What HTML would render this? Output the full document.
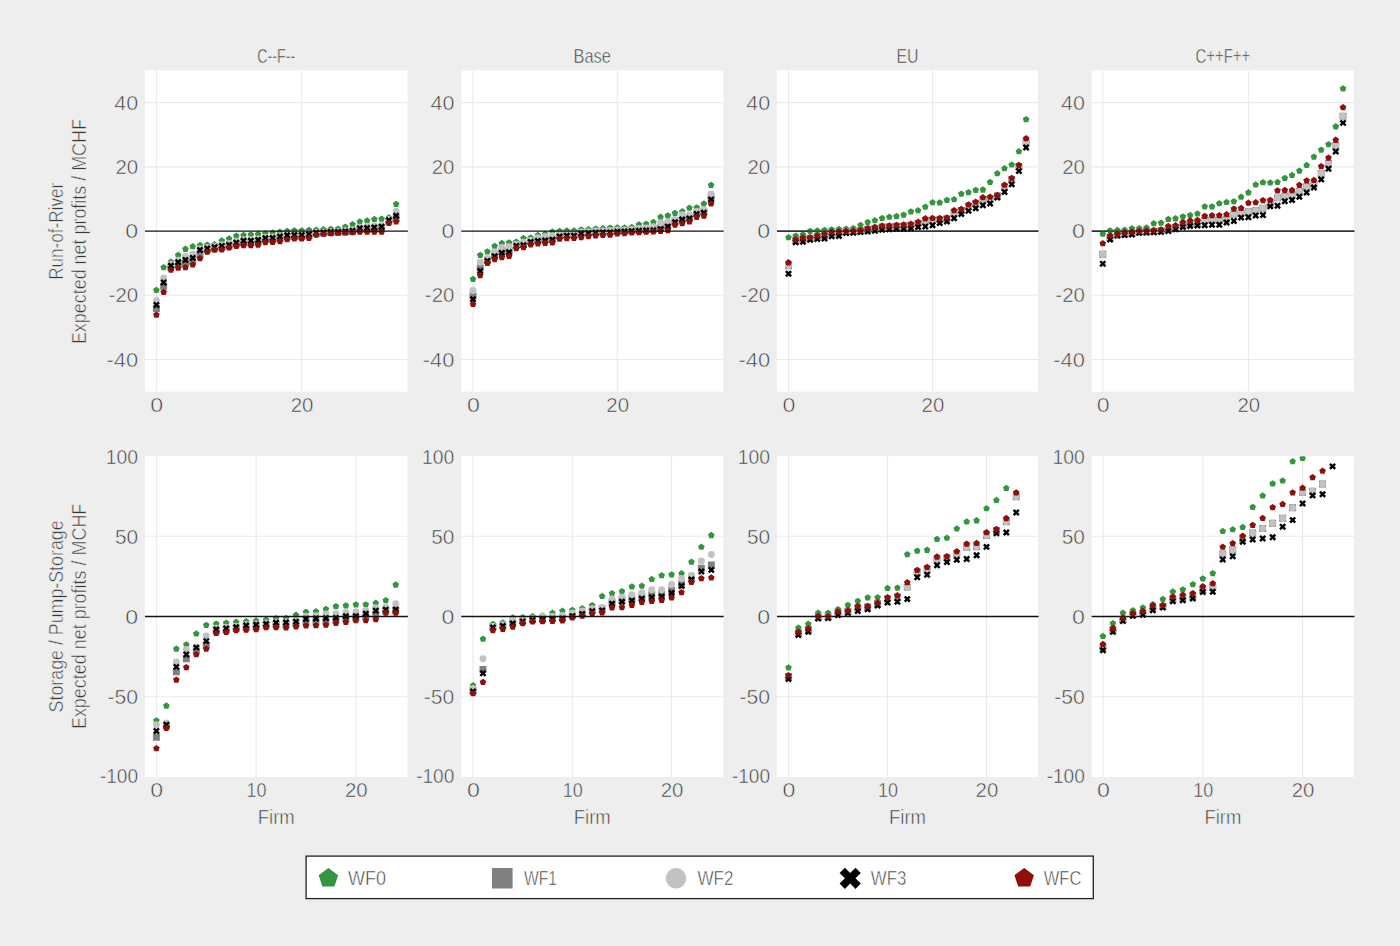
<!DOCTYPE html>
<html lang="en"><head><meta charset="utf-8"><title>Expected net profits by firm</title>
<style>html,body{margin:0;padding:0;background:#eeeeee}svg{display:block}</style></head>
<body>
<svg width="1400" height="946" viewBox="0 0 1400 946" font-family='"Liberation Sans", sans-serif' font-size="20" fill="#383838" stroke="#eeeeee" stroke-width="0.55">
<rect width="1400" height="946" fill="#eeeeee" stroke="none"/>
<rect x="145.00" y="70.55" width="262.50" height="321.15" fill="#ffffff" stroke="none"/>
<path d="M156.40,70.55V391.70M301.70,70.55V391.70M145.00,359.54H407.50M145.00,295.32H407.50M145.00,166.88H407.50M145.00,102.66H407.50" stroke="#eaeaea" stroke-width="1.1" fill="none"/>
<clipPath id="c1"><rect x="145.00" y="70.55" width="262.50" height="321.15"/></clipPath>
<g clip-path="url(#c1)">
<path d="M156.40,286.71L153.10,289.11L154.36,292.99L158.44,292.99L159.70,289.11ZM163.66,263.91L160.36,266.31L161.63,270.19L165.70,270.19L166.97,266.31ZM170.93,258.46L167.63,260.85L168.89,264.73L172.97,264.73L174.23,260.85ZM178.19,251.71L174.89,254.11L176.16,257.99L180.23,257.99L181.50,254.11ZM185.46,245.61L182.16,248.01L183.42,251.89L187.50,251.89L188.76,248.01ZM192.72,243.04L189.42,245.44L190.69,249.32L194.76,249.32L196.03,245.44ZM199.99,241.76L196.69,244.16L197.95,248.04L202.03,248.04L203.29,244.16ZM207.25,241.44L203.95,243.84L205.22,247.71L209.29,247.71L210.56,243.84ZM214.52,241.12L211.22,243.51L212.48,247.39L216.56,247.39L217.82,243.51ZM221.78,237.26L218.48,239.66L219.75,243.54L223.82,243.54L225.09,239.66ZM229.05,235.34L225.75,237.73L227.01,241.61L231.09,241.61L232.35,237.73ZM236.31,232.45L233.01,234.84L234.28,238.72L238.35,238.72L239.62,234.84ZM243.58,231.80L240.28,234.20L241.54,238.08L245.62,238.08L246.88,234.20ZM250.84,231.16L247.54,233.56L248.81,237.44L252.88,237.44L254.15,233.56ZM258.11,230.84L254.81,233.24L256.07,237.12L260.15,237.12L261.41,233.24ZM265.38,230.04L262.07,232.44L263.34,236.32L267.41,236.32L268.68,232.44ZM272.64,229.24L269.34,231.63L270.60,235.51L274.68,235.51L275.94,231.63ZM279.90,228.59L276.60,230.99L277.87,234.87L281.94,234.87L283.21,230.99ZM287.17,227.63L283.87,230.03L285.13,233.91L289.21,233.91L290.47,230.03ZM294.43,227.15L291.13,229.55L292.40,233.43L296.47,233.43L297.74,229.55ZM301.70,227.15L298.40,229.55L299.66,233.43L303.74,233.43L305.00,229.55ZM308.96,226.67L305.66,229.06L306.93,232.94L311.00,232.94L312.27,229.06ZM316.23,226.51L312.93,228.90L314.19,232.78L318.27,232.78L319.53,228.90ZM323.50,226.02L320.19,228.42L321.46,232.30L325.53,232.30L326.80,228.42ZM330.76,225.70L327.46,228.10L328.72,231.98L332.80,231.98L334.06,228.10ZM338.02,225.38L334.72,227.78L335.99,231.66L340.06,231.66L341.33,227.78ZM345.29,223.46L341.99,225.85L343.25,229.73L347.33,229.73L348.59,225.85ZM352.55,220.89L349.25,223.28L350.52,227.16L354.59,227.16L355.86,223.28ZM359.82,218.32L356.52,220.72L357.78,224.60L361.86,224.60L363.12,220.72ZM367.08,217.35L363.78,219.75L365.05,223.63L369.12,223.63L370.39,219.75ZM374.35,215.75L371.05,218.15L372.31,222.03L376.39,222.03L377.65,218.15ZM381.62,215.43L378.31,217.83L379.58,221.71L383.65,221.71L384.92,217.83ZM388.88,214.14L385.58,216.54L386.84,220.42L390.92,220.42L392.18,216.54ZM396.14,200.66L392.84,203.06L394.11,206.93L398.18,206.93L399.45,203.06Z" fill="#33963f" stroke="none"/>
<path d="M152.93,305.02 h6.94 v6.94 h-6.94 ZM160.19,282.86 h6.94 v6.94 h-6.94 ZM167.46,263.98 h6.94 v6.94 h-6.94 ZM174.72,261.09 h6.94 v6.94 h-6.94 ZM181.99,259.42 h6.94 v6.94 h-6.94 ZM189.25,257.49 h6.94 v6.94 h-6.94 ZM196.52,250.75 h6.94 v6.94 h-6.94 ZM203.78,246.38 h6.94 v6.94 h-6.94 ZM211.05,244.84 h6.94 v6.94 h-6.94 ZM218.31,243.94 h6.94 v6.94 h-6.94 ZM225.58,242.59 h6.94 v6.94 h-6.94 ZM232.84,240.60 h6.94 v6.94 h-6.94 ZM240.11,239.19 h6.94 v6.94 h-6.94 ZM247.37,239.19 h6.94 v6.94 h-6.94 ZM254.64,238.55 h6.94 v6.94 h-6.94 ZM261.90,236.36 h6.94 v6.94 h-6.94 ZM269.17,236.20 h6.94 v6.94 h-6.94 ZM276.43,235.02 h6.94 v6.94 h-6.94 ZM283.70,233.47 h6.94 v6.94 h-6.94 ZM290.96,233.02 h6.94 v6.94 h-6.94 ZM298.23,233.02 h6.94 v6.94 h-6.94 ZM305.49,232.38 h6.94 v6.94 h-6.94 ZM312.76,230.13 h6.94 v6.94 h-6.94 ZM320.02,229.56 h6.94 v6.94 h-6.94 ZM327.29,229.11 h6.94 v6.94 h-6.94 ZM334.55,228.88 h6.94 v6.94 h-6.94 ZM341.82,228.46 h6.94 v6.94 h-6.94 ZM349.08,227.95 h6.94 v6.94 h-6.94 ZM356.35,226.28 h6.94 v6.94 h-6.94 ZM363.61,226.19 h6.94 v6.94 h-6.94 ZM370.88,225.90 h6.94 v6.94 h-6.94 ZM378.14,225.41 h6.94 v6.94 h-6.94 ZM385.41,217.93 h6.94 v6.94 h-6.94 ZM392.67,214.79 h6.94 v6.94 h-6.94 Z" fill="#808080" stroke="none"/>
<path d="M152.93,300.46 a3.47,3.47 0 1,0 6.94,0 a3.47,3.47 0 1,0 -6.94,0ZM160.19,277.98 a3.47,3.47 0 1,0 6.94,0 a3.47,3.47 0 1,0 -6.94,0ZM167.46,264.16 a3.47,3.47 0 1,0 6.94,0 a3.47,3.47 0 1,0 -6.94,0ZM174.72,260.25 a3.47,3.47 0 1,0 6.94,0 a3.47,3.47 0 1,0 -6.94,0ZM181.99,256.15 a3.47,3.47 0 1,0 6.94,0 a3.47,3.47 0 1,0 -6.94,0ZM189.25,254.22 a3.47,3.47 0 1,0 6.94,0 a3.47,3.47 0 1,0 -6.94,0ZM196.52,248.75 a3.47,3.47 0 1,0 6.94,0 a3.47,3.47 0 1,0 -6.94,0ZM203.78,247.39 a3.47,3.47 0 1,0 6.94,0 a3.47,3.47 0 1,0 -6.94,0ZM211.05,246.29 a3.47,3.47 0 1,0 6.94,0 a3.47,3.47 0 1,0 -6.94,0ZM218.31,244.66 a3.47,3.47 0 1,0 6.94,0 a3.47,3.47 0 1,0 -6.94,0ZM225.58,243.58 a3.47,3.47 0 1,0 6.94,0 a3.47,3.47 0 1,0 -6.94,0ZM232.84,241.30 a3.47,3.47 0 1,0 6.94,0 a3.47,3.47 0 1,0 -6.94,0ZM240.11,239.63 a3.47,3.47 0 1,0 6.94,0 a3.47,3.47 0 1,0 -6.94,0ZM247.37,239.53 a3.47,3.47 0 1,0 6.94,0 a3.47,3.47 0 1,0 -6.94,0ZM254.64,238.95 a3.47,3.47 0 1,0 6.94,0 a3.47,3.47 0 1,0 -6.94,0ZM261.90,237.25 a3.47,3.47 0 1,0 6.94,0 a3.47,3.47 0 1,0 -6.94,0ZM269.17,237.00 a3.47,3.47 0 1,0 6.94,0 a3.47,3.47 0 1,0 -6.94,0ZM276.43,235.72 a3.47,3.47 0 1,0 6.94,0 a3.47,3.47 0 1,0 -6.94,0ZM283.70,234.52 a3.47,3.47 0 1,0 6.94,0 a3.47,3.47 0 1,0 -6.94,0ZM290.96,234.19 a3.47,3.47 0 1,0 6.94,0 a3.47,3.47 0 1,0 -6.94,0ZM298.23,234.19 a3.47,3.47 0 1,0 6.94,0 a3.47,3.47 0 1,0 -6.94,0ZM305.49,233.59 a3.47,3.47 0 1,0 6.94,0 a3.47,3.47 0 1,0 -6.94,0ZM312.76,232.25 a3.47,3.47 0 1,0 6.94,0 a3.47,3.47 0 1,0 -6.94,0ZM320.02,231.91 a3.47,3.47 0 1,0 6.94,0 a3.47,3.47 0 1,0 -6.94,0ZM327.29,231.60 a3.47,3.47 0 1,0 6.94,0 a3.47,3.47 0 1,0 -6.94,0ZM334.55,231.42 a3.47,3.47 0 1,0 6.94,0 a3.47,3.47 0 1,0 -6.94,0ZM341.82,230.74 a3.47,3.47 0 1,0 6.94,0 a3.47,3.47 0 1,0 -6.94,0ZM349.08,229.81 a3.47,3.47 0 1,0 6.94,0 a3.47,3.47 0 1,0 -6.94,0ZM356.35,227.16 a3.47,3.47 0 1,0 6.94,0 a3.47,3.47 0 1,0 -6.94,0ZM363.61,226.28 a3.47,3.47 0 1,0 6.94,0 a3.47,3.47 0 1,0 -6.94,0ZM370.88,225.64 a3.47,3.47 0 1,0 6.94,0 a3.47,3.47 0 1,0 -6.94,0ZM378.14,225.46 a3.47,3.47 0 1,0 6.94,0 a3.47,3.47 0 1,0 -6.94,0ZM385.41,219.47 a3.47,3.47 0 1,0 6.94,0 a3.47,3.47 0 1,0 -6.94,0ZM392.67,211.19 a3.47,3.47 0 1,0 6.94,0 a3.47,3.47 0 1,0 -6.94,0Z" fill="#c2c2c2" stroke="none"/>
<path d="M154.66,301.48L156.40,303.22L158.14,301.48L159.87,303.22L158.14,304.95L159.87,306.69L158.14,308.42L156.40,306.69L154.66,308.42L152.93,306.69L154.66,304.95L152.93,303.22ZM161.93,279.01L163.66,280.74L165.40,279.01L167.13,280.74L165.40,282.48L167.13,284.21L165.40,285.95L163.66,284.21L161.93,285.95L160.19,284.21L161.93,282.48L160.19,280.74ZM169.19,262.31L170.93,264.04L172.67,262.31L174.40,264.04L172.67,265.78L174.40,267.51L172.67,269.25L170.93,267.51L169.19,269.25L167.46,267.51L169.19,265.78L167.46,264.04ZM176.46,258.78L178.19,260.51L179.93,258.78L181.66,260.51L179.93,262.25L181.66,263.98L179.93,265.72L178.19,263.98L176.46,265.72L174.72,263.98L176.46,262.25L174.72,260.51ZM183.72,256.53L185.46,258.26L187.20,256.53L188.93,258.26L187.20,260.00L188.93,261.73L187.20,263.47L185.46,261.73L183.72,263.47L181.99,261.73L183.72,260.00L181.99,258.26ZM190.99,254.60L192.72,256.34L194.46,254.60L196.19,256.34L194.46,258.07L196.19,259.81L194.46,261.54L192.72,259.81L190.99,261.54L189.25,259.81L190.99,258.07L189.25,256.34ZM198.25,246.57L199.99,248.31L201.73,246.57L203.46,248.31L201.73,250.04L203.46,251.78L201.73,253.51L199.99,251.78L198.25,253.51L196.52,251.78L198.25,250.04L196.52,248.31ZM205.52,244.97L207.25,246.70L208.99,244.97L210.72,246.70L208.99,248.44L210.72,250.17L208.99,251.91L207.25,250.17L205.52,251.91L203.78,250.17L205.52,248.44L203.78,246.70ZM212.78,243.69L214.52,245.42L216.25,243.69L217.99,245.42L216.25,247.16L217.99,248.89L216.25,250.62L214.52,248.89L212.78,250.62L211.05,248.89L212.78,247.16L211.05,245.42ZM220.05,242.40L221.78,244.14L223.52,242.40L225.25,244.14L223.52,245.87L225.25,247.61L223.52,249.34L221.78,247.61L220.05,249.34L218.31,247.61L220.05,245.87L218.31,244.14ZM227.31,241.44L229.05,243.17L230.79,241.44L232.52,243.17L230.79,244.91L232.52,246.64L230.79,248.38L229.05,246.64L227.31,248.38L225.58,246.64L227.31,244.91L225.58,243.17ZM234.58,239.19L236.31,240.92L238.05,239.19L239.78,240.92L238.05,242.66L239.78,244.39L238.05,246.13L236.31,244.39L234.58,246.13L232.84,244.39L234.58,242.66L232.84,240.92ZM241.84,237.26L243.58,239.00L245.31,237.26L247.05,239.00L245.31,240.73L247.05,242.47L245.31,244.20L243.58,242.47L241.84,244.20L240.11,242.47L241.84,240.73L240.11,239.00ZM249.11,237.26L250.84,239.00L252.58,237.26L254.31,239.00L252.58,240.73L254.31,242.47L252.58,244.20L250.84,242.47L249.11,244.20L247.37,242.47L249.11,240.73L247.37,239.00ZM256.38,236.62L258.11,238.36L259.85,236.62L261.58,238.36L259.85,240.09L261.58,241.83L259.85,243.56L258.11,241.83L256.38,243.56L254.64,241.83L256.38,240.09L254.64,238.36ZM263.64,234.69L265.38,236.43L267.11,234.69L268.85,236.43L267.11,238.16L268.85,239.90L267.11,241.63L265.38,239.90L263.64,241.63L261.90,239.90L263.64,238.16L261.90,236.43ZM270.90,234.53L272.64,236.27L274.38,234.53L276.11,236.27L274.38,238.00L276.11,239.74L274.38,241.47L272.64,239.74L270.90,241.47L269.17,239.74L270.90,238.00L269.17,236.27ZM278.17,233.09L279.90,234.82L281.64,233.09L283.38,234.82L281.64,236.56L283.38,238.29L281.64,240.03L279.90,238.29L278.17,240.03L276.43,238.29L278.17,236.56L276.43,234.82ZM285.43,231.80L287.17,233.54L288.90,231.80L290.64,233.54L288.90,235.27L290.64,237.01L288.90,238.74L287.17,237.01L285.43,238.74L283.70,237.01L285.43,235.27L283.70,233.54ZM292.70,231.48L294.43,233.22L296.17,231.48L297.90,233.22L296.17,234.95L297.90,236.69L296.17,238.42L294.43,236.69L292.70,238.42L290.96,236.69L292.70,234.95L290.96,233.22ZM299.96,231.48L301.70,233.22L303.44,231.48L305.17,233.22L303.44,234.95L305.17,236.69L303.44,238.42L301.70,236.69L299.96,238.42L298.23,236.69L299.96,234.95L298.23,233.22ZM307.23,230.84L308.96,232.58L310.70,230.84L312.44,232.58L310.70,234.31L312.44,236.05L310.70,237.78L308.96,236.05L307.23,237.78L305.49,236.05L307.23,234.31L305.49,232.58ZM314.50,229.24L316.23,230.97L317.97,229.24L319.70,230.97L317.97,232.71L319.70,234.44L317.97,236.18L316.23,234.44L314.50,236.18L312.76,234.44L314.50,232.71L312.76,230.97ZM321.76,228.91L323.50,230.65L325.23,228.91L326.97,230.65L325.23,232.38L326.97,234.12L325.23,235.85L323.50,234.12L321.76,235.85L320.02,234.12L321.76,232.38L320.02,230.65ZM329.02,228.59L330.76,230.33L332.50,228.59L334.23,230.33L332.50,232.06L334.23,233.80L332.50,235.53L330.76,233.80L329.02,235.53L327.29,233.80L329.02,232.06L327.29,230.33ZM336.29,228.43L338.02,230.17L339.76,228.43L341.50,230.17L339.76,231.90L341.50,233.64L339.76,235.37L338.02,233.64L336.29,235.37L334.55,233.64L336.29,231.90L334.55,230.17ZM343.55,227.95L345.29,229.69L347.02,227.95L348.76,229.69L347.02,231.42L348.76,233.16L347.02,234.89L345.29,233.16L343.55,234.89L341.82,233.16L343.55,231.42L341.82,229.69ZM350.82,227.31L352.55,229.04L354.29,227.31L356.02,229.04L354.29,230.78L356.02,232.51L354.29,234.25L352.55,232.51L350.82,234.25L349.08,232.51L350.82,230.78L349.08,229.04ZM358.08,224.74L359.82,226.48L361.55,224.74L363.29,226.48L361.55,228.21L363.29,229.95L361.55,231.68L359.82,229.95L358.08,231.68L356.35,229.95L358.08,228.21L356.35,226.48ZM365.35,224.58L367.08,226.31L368.82,224.58L370.56,226.31L368.82,228.05L370.56,229.78L368.82,231.52L367.08,229.78L365.35,231.52L363.61,229.78L365.35,228.05L363.61,226.31ZM372.61,224.10L374.35,225.83L376.08,224.10L377.82,225.83L376.08,227.57L377.82,229.30L376.08,231.04L374.35,229.30L372.61,231.04L370.88,229.30L372.61,227.57L370.88,225.83ZM379.88,223.30L381.62,225.03L383.35,223.30L385.09,225.03L383.35,226.77L385.09,228.50L383.35,230.24L381.62,228.50L379.88,230.24L378.14,228.50L379.88,226.77L378.14,225.03ZM387.14,216.71L388.88,218.45L390.62,216.71L392.35,218.45L390.62,220.18L392.35,221.92L390.62,223.65L388.88,221.92L387.14,223.65L385.41,221.92L387.14,220.18L385.41,218.45ZM394.41,212.22L396.14,213.95L397.88,212.22L399.62,213.95L397.88,215.69L399.62,217.42L397.88,219.16L396.14,217.42L394.41,219.16L392.67,217.42L394.41,215.69L392.67,213.95Z" fill="#000000" stroke="none"/>
<path d="M156.40,311.44L153.10,313.83L154.36,317.71L158.44,317.71L159.70,313.83ZM163.66,288.64L160.36,291.04L161.63,294.92L165.70,294.92L166.97,291.04ZM170.93,266.48L167.63,268.88L168.89,272.76L172.97,272.76L174.23,268.88ZM178.19,264.56L174.89,266.95L176.16,270.83L180.23,270.83L181.50,266.95ZM185.46,263.91L182.16,266.31L183.42,270.19L187.50,270.19L188.76,266.31ZM192.72,261.35L189.42,263.74L190.69,267.62L194.76,267.62L196.03,263.74ZM199.99,254.92L196.69,257.32L197.95,261.20L202.03,261.20L203.29,257.32ZM207.25,248.50L203.95,250.90L205.22,254.78L209.29,254.78L210.56,250.90ZM214.52,246.57L211.22,248.97L212.48,252.85L216.56,252.85L217.82,248.97ZM221.78,246.25L218.48,248.65L219.75,252.53L223.82,252.53L225.09,248.65ZM229.05,244.33L225.75,246.72L227.01,250.60L231.09,250.60L232.35,246.72ZM236.31,242.72L233.01,245.12L234.28,249.00L238.35,249.00L239.62,245.12ZM243.58,242.08L240.28,244.48L241.54,248.36L245.62,248.36L246.88,244.48ZM250.84,242.08L247.54,244.48L248.81,248.36L252.88,248.36L254.15,244.48ZM258.11,241.44L254.81,243.84L256.07,247.71L260.15,247.71L261.41,243.84ZM265.38,238.87L262.07,241.27L263.34,245.15L267.41,245.15L268.68,241.27ZM272.64,238.71L269.34,241.11L270.60,244.99L274.68,244.99L275.94,241.11ZM279.90,237.91L276.60,240.30L277.87,244.18L281.94,244.18L283.21,240.30ZM287.17,235.98L283.87,238.38L285.13,242.26L289.21,242.26L290.47,238.38ZM294.43,235.34L291.13,237.73L292.40,241.61L296.47,241.61L297.74,237.73ZM301.70,235.34L298.40,237.73L299.66,241.61L303.74,241.61L305.00,237.73ZM308.96,234.69L305.66,237.09L306.93,240.97L311.00,240.97L312.27,237.09ZM316.23,231.48L312.93,233.88L314.19,237.76L318.27,237.76L319.53,233.88ZM323.50,230.52L320.19,232.92L321.46,236.80L325.53,236.80L326.80,232.92ZM330.76,229.88L327.46,232.28L328.72,236.15L332.80,236.15L334.06,232.28ZM338.02,229.56L334.72,231.95L335.99,235.83L340.06,235.83L341.33,231.95ZM345.29,229.24L341.99,231.63L343.25,235.51L347.33,235.51L348.59,231.63ZM352.55,228.91L349.25,231.31L350.52,235.19L354.59,235.19L355.86,231.31ZM359.82,228.59L356.52,230.99L357.78,234.87L361.86,234.87L363.12,230.99ZM367.08,228.59L363.78,230.99L365.05,234.87L369.12,234.87L370.39,230.99ZM374.35,228.59L371.05,230.99L372.31,234.87L376.39,234.87L377.65,230.99ZM381.62,228.59L378.31,230.99L379.58,234.87L383.65,234.87L384.92,230.99ZM388.88,219.76L385.58,222.16L386.84,226.04L390.92,226.04L392.18,222.16ZM396.14,218.32L392.84,220.72L394.11,224.60L398.18,224.60L399.45,220.72Z" fill="#8f100b" stroke="none"/>
</g>
<path d="M145.00,231.10H407.90" stroke="#111111" stroke-width="1.4" fill="none" opacity="1"/>
<text x="156.80" y="411.76" text-anchor="middle" textLength="12.9" lengthAdjust="spacingAndGlyphs">0</text>
<text x="302.10" y="411.76" text-anchor="middle" textLength="22.7" lengthAdjust="spacingAndGlyphs">20</text>
<text x="138.10" y="366.70" text-anchor="end" textLength="31.6" lengthAdjust="spacingAndGlyphs">-40</text>
<text x="138.10" y="302.48" text-anchor="end" textLength="29.5" lengthAdjust="spacingAndGlyphs">-20</text>
<text x="138.10" y="238.26" text-anchor="end" textLength="12.9" lengthAdjust="spacingAndGlyphs">0</text>
<text x="138.10" y="174.04" text-anchor="end" textLength="22.7" lengthAdjust="spacingAndGlyphs">20</text>
<text x="138.10" y="109.82" text-anchor="end" textLength="23.9" lengthAdjust="spacingAndGlyphs">40</text>
<text x="276.25" y="63.36" text-anchor="middle" textLength="38.0" lengthAdjust="spacingAndGlyphs">C--F--</text>
<rect x="461.25" y="70.55" width="262.00" height="321.15" fill="#ffffff" stroke="none"/>
<path d="M473.00,70.55V391.70M617.30,70.55V391.70M461.25,359.54H723.25M461.25,295.32H723.25M461.25,166.88H723.25M461.25,102.66H723.25" stroke="#eaeaea" stroke-width="1.1" fill="none"/>
<clipPath id="c2"><rect x="461.25" y="70.55" width="262.00" height="321.15"/></clipPath>
<g clip-path="url(#c2)">
<path d="M473.00,275.63L469.70,278.03L470.96,281.91L475.04,281.91L476.30,278.03ZM480.21,251.71L476.91,254.11L478.18,257.99L482.25,257.99L483.52,254.11ZM487.43,248.18L484.13,250.58L485.39,254.46L489.47,254.46L490.73,250.58ZM494.64,242.72L491.34,245.12L492.61,249.00L496.68,249.00L497.95,245.12ZM501.86,239.83L498.56,242.23L499.82,246.11L503.90,246.11L505.16,242.23ZM509.07,239.19L505.77,241.59L507.04,245.47L511.11,245.47L512.38,241.59ZM516.29,238.39L512.99,240.78L514.25,244.66L518.33,244.66L519.59,240.78ZM523.50,234.85L520.20,237.25L521.47,241.13L525.54,241.13L526.81,237.25ZM530.72,234.37L527.42,236.77L528.68,240.65L532.76,240.65L534.02,236.77ZM537.93,231.80L534.63,234.20L535.90,238.08L539.97,238.08L541.24,234.20ZM545.15,230.52L541.85,232.92L543.11,236.80L547.19,236.80L548.45,232.92ZM552.37,228.27L549.06,230.67L550.33,234.55L554.40,234.55L555.67,230.67ZM559.58,227.63L556.28,230.03L557.54,233.91L561.62,233.91L562.88,230.03ZM566.79,227.31L563.49,229.71L564.76,233.59L568.83,233.59L570.10,229.71ZM574.01,227.31L570.71,229.71L571.97,233.59L576.05,233.59L577.31,229.71ZM581.22,226.35L577.92,228.74L579.19,232.62L583.26,232.62L584.53,228.74ZM588.44,226.02L585.14,228.42L586.40,232.30L590.48,232.30L591.74,228.42ZM595.65,225.38L592.35,227.78L593.62,231.66L597.69,231.66L598.96,227.78ZM602.87,225.06L599.57,227.46L600.83,231.34L604.91,231.34L606.17,227.46ZM610.08,224.42L606.78,226.82L608.05,230.70L612.12,230.70L613.39,226.82ZM617.30,224.26L614.00,226.66L615.26,230.54L619.34,230.54L620.60,226.66ZM624.51,224.26L621.21,226.66L622.48,230.54L626.55,230.54L627.82,226.66ZM631.73,223.78L628.43,226.17L629.69,230.05L633.77,230.05L635.03,226.17ZM638.94,221.21L635.64,223.61L636.91,227.49L640.98,227.49L642.25,223.61ZM646.16,220.57L642.86,222.96L644.12,226.84L648.20,226.84L649.46,222.96ZM653.38,218.80L650.07,221.20L651.34,225.08L655.41,225.08L656.68,221.20ZM660.59,213.50L657.29,215.90L658.55,219.78L662.63,219.78L663.89,215.90ZM667.80,212.22L664.50,214.61L665.77,218.49L669.84,218.49L671.11,214.61ZM675.02,209.65L671.72,212.05L672.98,215.93L677.06,215.93L678.32,212.05ZM682.23,208.04L678.93,210.44L680.20,214.32L684.27,214.32L685.54,210.44ZM689.45,204.51L686.15,206.91L687.41,210.79L691.49,210.79L692.75,206.91ZM696.66,204.19L693.36,206.59L694.63,210.47L698.70,210.47L699.97,206.59ZM703.88,200.34L700.58,202.73L701.84,206.61L705.92,206.61L707.18,202.73ZM711.09,181.71L707.79,184.11L709.06,187.99L713.13,187.99L714.40,184.11Z" fill="#33963f" stroke="none"/>
<path d="M469.53,292.49 h6.94 v6.94 h-6.94 ZM476.74,264.56 h6.94 v6.94 h-6.94 ZM483.96,256.53 h6.94 v6.94 h-6.94 ZM491.17,251.42 h6.94 v6.94 h-6.94 ZM498.39,248.12 h6.94 v6.94 h-6.94 ZM505.60,247.47 h6.94 v6.94 h-6.94 ZM512.82,241.84 h6.94 v6.94 h-6.94 ZM520.03,240.79 h6.94 v6.94 h-6.94 ZM527.25,237.96 h6.94 v6.94 h-6.94 ZM534.46,236.77 h6.94 v6.94 h-6.94 ZM541.68,236.18 h6.94 v6.94 h-6.94 ZM548.89,235.18 h6.94 v6.94 h-6.94 ZM556.11,232.19 h6.94 v6.94 h-6.94 ZM563.32,231.59 h6.94 v6.94 h-6.94 ZM570.54,231.59 h6.94 v6.94 h-6.94 ZM577.75,229.52 h6.94 v6.94 h-6.94 ZM584.97,229.20 h6.94 v6.94 h-6.94 ZM592.18,228.70 h6.94 v6.94 h-6.94 ZM599.40,228.51 h6.94 v6.94 h-6.94 ZM606.61,228.29 h6.94 v6.94 h-6.94 ZM613.83,227.71 h6.94 v6.94 h-6.94 ZM621.04,227.57 h6.94 v6.94 h-6.94 ZM628.26,227.09 h6.94 v6.94 h-6.94 ZM635.47,226.45 h6.94 v6.94 h-6.94 ZM642.69,226.09 h6.94 v6.94 h-6.94 ZM649.90,225.57 h6.94 v6.94 h-6.94 ZM657.12,224.00 h6.94 v6.94 h-6.94 ZM664.33,221.61 h6.94 v6.94 h-6.94 ZM671.55,217.52 h6.94 v6.94 h-6.94 ZM678.76,214.95 h6.94 v6.94 h-6.94 ZM685.98,213.49 h6.94 v6.94 h-6.94 ZM693.19,209.71 h6.94 v6.94 h-6.94 ZM700.41,208.07 h6.94 v6.94 h-6.94 ZM707.62,194.24 h6.94 v6.94 h-6.94 Z" fill="#808080" stroke="none"/>
<path d="M469.53,290.50 a3.47,3.47 0 1,0 6.94,0 a3.47,3.47 0 1,0 -6.94,0ZM476.74,262.25 a3.47,3.47 0 1,0 6.94,0 a3.47,3.47 0 1,0 -6.94,0ZM483.96,258.39 a3.47,3.47 0 1,0 6.94,0 a3.47,3.47 0 1,0 -6.94,0ZM491.17,251.65 a3.47,3.47 0 1,0 6.94,0 a3.47,3.47 0 1,0 -6.94,0ZM498.39,247.48 a3.47,3.47 0 1,0 6.94,0 a3.47,3.47 0 1,0 -6.94,0ZM505.60,246.83 a3.47,3.47 0 1,0 6.94,0 a3.47,3.47 0 1,0 -6.94,0ZM512.82,244.27 a3.47,3.47 0 1,0 6.94,0 a3.47,3.47 0 1,0 -6.94,0ZM520.03,242.33 a3.47,3.47 0 1,0 6.94,0 a3.47,3.47 0 1,0 -6.94,0ZM527.25,240.26 a3.47,3.47 0 1,0 6.94,0 a3.47,3.47 0 1,0 -6.94,0ZM534.46,237.68 a3.47,3.47 0 1,0 6.94,0 a3.47,3.47 0 1,0 -6.94,0ZM541.68,236.40 a3.47,3.47 0 1,0 6.94,0 a3.47,3.47 0 1,0 -6.94,0ZM548.89,235.60 a3.47,3.47 0 1,0 6.94,0 a3.47,3.47 0 1,0 -6.94,0ZM556.11,234.31 a3.47,3.47 0 1,0 6.94,0 a3.47,3.47 0 1,0 -6.94,0ZM563.32,233.99 a3.47,3.47 0 1,0 6.94,0 a3.47,3.47 0 1,0 -6.94,0ZM570.54,233.99 a3.47,3.47 0 1,0 6.94,0 a3.47,3.47 0 1,0 -6.94,0ZM577.75,231.96 a3.47,3.47 0 1,0 6.94,0 a3.47,3.47 0 1,0 -6.94,0ZM584.97,231.64 a3.47,3.47 0 1,0 6.94,0 a3.47,3.47 0 1,0 -6.94,0ZM592.18,231.09 a3.47,3.47 0 1,0 6.94,0 a3.47,3.47 0 1,0 -6.94,0ZM599.40,230.86 a3.47,3.47 0 1,0 6.94,0 a3.47,3.47 0 1,0 -6.94,0ZM606.61,230.50 a3.47,3.47 0 1,0 6.94,0 a3.47,3.47 0 1,0 -6.94,0ZM613.83,230.06 a3.47,3.47 0 1,0 6.94,0 a3.47,3.47 0 1,0 -6.94,0ZM621.04,229.96 a3.47,3.47 0 1,0 6.94,0 a3.47,3.47 0 1,0 -6.94,0ZM628.26,229.48 a3.47,3.47 0 1,0 6.94,0 a3.47,3.47 0 1,0 -6.94,0ZM635.47,228.53 a3.47,3.47 0 1,0 6.94,0 a3.47,3.47 0 1,0 -6.94,0ZM642.69,227.89 a3.47,3.47 0 1,0 6.94,0 a3.47,3.47 0 1,0 -6.94,0ZM649.90,226.60 a3.47,3.47 0 1,0 6.94,0 a3.47,3.47 0 1,0 -6.94,0ZM657.12,222.91 a3.47,3.47 0 1,0 6.94,0 a3.47,3.47 0 1,0 -6.94,0ZM664.33,222.27 a3.47,3.47 0 1,0 6.94,0 a3.47,3.47 0 1,0 -6.94,0ZM671.55,219.54 a3.47,3.47 0 1,0 6.94,0 a3.47,3.47 0 1,0 -6.94,0ZM678.76,214.72 a3.47,3.47 0 1,0 6.94,0 a3.47,3.47 0 1,0 -6.94,0ZM685.98,214.72 a3.47,3.47 0 1,0 6.94,0 a3.47,3.47 0 1,0 -6.94,0ZM693.19,211.51 a3.47,3.47 0 1,0 6.94,0 a3.47,3.47 0 1,0 -6.94,0ZM700.41,209.59 a3.47,3.47 0 1,0 6.94,0 a3.47,3.47 0 1,0 -6.94,0ZM707.62,193.85 a3.47,3.47 0 1,0 6.94,0 a3.47,3.47 0 1,0 -6.94,0Z" fill="#c2c2c2" stroke="none"/>
<path d="M471.26,295.70L473.00,297.44L474.74,295.70L476.47,297.44L474.74,299.17L476.47,300.91L474.74,302.64L473.00,300.91L471.26,302.64L469.53,300.91L471.26,299.17L469.53,297.44ZM478.48,267.45L480.21,269.18L481.95,267.45L483.69,269.18L481.95,270.92L483.69,272.65L481.95,274.39L480.21,272.65L478.48,274.39L476.74,272.65L478.48,270.92L476.74,269.18ZM485.69,257.49L487.43,259.23L489.17,257.49L490.90,259.23L489.17,260.96L490.90,262.70L489.17,264.43L487.43,262.70L485.69,264.43L483.96,262.70L485.69,260.96L483.96,259.23ZM492.91,252.84L494.64,254.57L496.38,252.84L498.12,254.57L496.38,256.31L498.12,258.04L496.38,259.78L494.64,258.04L492.91,259.78L491.17,258.04L492.91,256.31L491.17,254.57ZM500.12,249.46L501.86,251.20L503.60,249.46L505.33,251.20L503.60,252.93L505.33,254.67L503.60,256.40L501.86,254.67L500.12,256.40L498.39,254.67L500.12,252.93L498.39,251.20ZM507.34,248.82L509.07,250.56L510.81,248.82L512.54,250.56L510.81,252.29L512.54,254.03L510.81,255.76L509.07,254.03L507.34,255.76L505.60,254.03L507.34,252.29L505.60,250.56ZM514.55,242.40L516.29,244.14L518.02,242.40L519.76,244.14L518.02,245.87L519.76,247.61L518.02,249.34L516.29,247.61L514.55,249.34L512.82,247.61L514.55,245.87L512.82,244.14ZM521.77,241.76L523.50,243.49L525.24,241.76L526.98,243.49L525.24,245.23L526.98,246.96L525.24,248.70L523.50,246.96L521.77,248.70L520.03,246.96L521.77,245.23L520.03,243.49ZM528.99,238.55L530.72,240.28L532.46,238.55L534.19,240.28L532.46,242.02L534.19,243.75L532.46,245.49L530.72,243.75L528.99,245.49L527.25,243.75L528.99,242.02L527.25,240.28ZM536.20,237.58L537.93,239.32L539.67,237.58L541.40,239.32L539.67,241.05L541.40,242.79L539.67,244.52L537.93,242.79L536.20,244.52L534.46,242.79L536.20,241.05L534.46,239.32ZM543.41,237.10L545.15,238.84L546.88,237.10L548.62,238.84L546.88,240.57L548.62,242.31L546.88,244.04L545.15,242.31L543.41,244.04L541.68,242.31L543.41,240.57L541.68,238.84ZM550.63,236.30L552.37,238.03L554.10,236.30L555.84,238.03L554.10,239.77L555.84,241.50L554.10,243.24L552.37,241.50L550.63,243.24L548.89,241.50L550.63,239.77L548.89,238.03ZM557.84,232.93L559.58,234.66L561.31,232.93L563.05,234.66L561.31,236.40L563.05,238.13L561.31,239.87L559.58,238.13L557.84,239.87L556.11,238.13L557.84,236.40L556.11,234.66ZM565.06,232.29L566.79,234.02L568.53,232.29L570.26,234.02L568.53,235.76L570.26,237.49L568.53,239.23L566.79,237.49L565.06,239.23L563.32,237.49L565.06,235.76L563.32,234.02ZM572.27,232.29L574.01,234.02L575.75,232.29L577.48,234.02L575.75,235.76L577.48,237.49L575.75,239.23L574.01,237.49L572.27,239.23L570.54,237.49L572.27,235.76L570.54,234.02ZM579.49,230.04L581.22,231.77L582.96,230.04L584.69,231.77L582.96,233.51L584.69,235.24L582.96,236.98L581.22,235.24L579.49,236.98L577.75,235.24L579.49,233.51L577.75,231.77ZM586.70,229.72L588.44,231.45L590.17,229.72L591.91,231.45L590.17,233.19L591.91,234.92L590.17,236.66L588.44,234.92L586.70,236.66L584.97,234.92L586.70,233.19L584.97,231.45ZM593.92,229.24L595.65,230.97L597.39,229.24L599.12,230.97L597.39,232.71L599.12,234.44L597.39,236.18L595.65,234.44L593.92,236.18L592.18,234.44L593.92,232.71L592.18,230.97ZM601.13,229.07L602.87,230.81L604.61,229.07L606.34,230.81L604.61,232.54L606.34,234.28L604.61,236.01L602.87,234.28L601.13,236.01L599.40,234.28L601.13,232.54L599.40,230.81ZM608.35,228.91L610.08,230.65L611.82,228.91L613.55,230.65L611.82,232.38L613.55,234.12L611.82,235.85L610.08,234.12L608.35,235.85L606.61,234.12L608.35,232.38L606.61,230.65ZM615.56,228.27L617.30,230.01L619.03,228.27L620.77,230.01L619.03,231.74L620.77,233.48L619.03,235.21L617.30,233.48L615.56,235.21L613.83,233.48L615.56,231.74L613.83,230.01ZM622.78,228.11L624.51,229.85L626.25,228.11L627.99,229.85L626.25,231.58L627.99,233.32L626.25,235.05L624.51,233.32L622.78,235.05L621.04,233.32L622.78,231.58L621.04,229.85ZM630.00,227.63L631.73,229.36L633.47,227.63L635.20,229.36L633.47,231.10L635.20,232.84L633.47,234.57L631.73,232.84L630.00,234.57L628.26,232.84L630.00,231.10L628.26,229.36ZM637.21,227.31L638.94,229.04L640.68,227.31L642.41,229.04L640.68,230.78L642.41,232.51L640.68,234.25L638.94,232.51L637.21,234.25L635.47,232.51L637.21,230.78L635.47,229.04ZM644.42,226.99L646.16,228.72L647.89,226.99L649.63,228.72L647.89,230.46L649.63,232.19L647.89,233.93L646.16,232.19L644.42,233.93L642.69,232.19L644.42,230.46L642.69,228.72ZM651.64,226.67L653.38,228.40L655.11,226.67L656.85,228.40L655.11,230.14L656.85,231.87L655.11,233.61L653.38,231.87L651.64,233.61L649.90,231.87L651.64,230.14L649.90,228.40ZM658.85,225.70L660.59,227.44L662.32,225.70L664.06,227.44L662.32,229.17L664.06,230.91L662.32,232.64L660.59,230.91L658.85,232.64L657.12,230.91L658.85,229.17L657.12,227.44ZM666.07,223.13L667.80,224.87L669.54,223.13L671.27,224.87L669.54,226.60L671.27,228.34L669.54,230.07L667.80,228.34L666.07,230.07L664.33,228.34L666.07,226.60L664.33,224.87ZM673.28,218.80L675.02,220.53L676.75,218.80L678.49,220.53L676.75,222.27L678.49,224.00L676.75,225.74L675.02,224.00L673.28,225.74L671.55,224.00L673.28,222.27L671.55,220.53ZM680.50,216.07L682.23,217.81L683.97,216.07L685.70,217.81L683.97,219.54L685.70,221.28L683.97,223.01L682.23,221.28L680.50,223.01L678.76,221.28L680.50,219.54L678.76,217.81ZM687.71,214.95L689.45,216.68L691.18,214.95L692.92,216.68L691.18,218.42L692.92,220.15L691.18,221.89L689.45,220.15L687.71,221.89L685.98,220.15L687.71,218.42L685.98,216.68ZM694.93,210.61L696.66,212.35L698.40,210.61L700.13,212.35L698.40,214.08L700.13,215.82L698.40,217.55L696.66,215.82L694.93,217.55L693.19,215.82L694.93,214.08L693.19,212.35ZM702.14,209.33L703.88,211.06L705.61,209.33L707.35,211.06L705.61,212.80L707.35,214.53L705.61,216.27L703.88,214.53L702.14,216.27L700.41,214.53L702.14,212.80L700.41,211.06ZM709.36,196.16L711.09,197.90L712.83,196.16L714.56,197.90L712.83,199.63L714.56,201.37L712.83,203.10L711.09,201.37L709.36,203.10L707.62,201.37L709.36,199.63L707.62,197.90Z" fill="#000000" stroke="none"/>
<path d="M473.00,300.84L469.70,303.24L470.96,307.12L475.04,307.12L476.30,303.24ZM480.21,271.94L476.91,274.34L478.18,278.22L482.25,278.22L483.52,274.34ZM487.43,259.74L484.13,262.14L485.39,266.02L489.47,266.02L490.73,262.14ZM494.64,255.89L491.34,258.28L492.61,262.16L496.68,262.16L497.95,258.28ZM501.86,253.96L498.56,256.36L499.82,260.24L503.90,260.24L505.16,256.36ZM509.07,252.84L505.77,255.23L507.04,259.11L511.11,259.11L512.38,255.23ZM516.29,244.97L512.99,247.37L514.25,251.25L518.33,251.25L519.59,247.37ZM523.50,244.01L520.20,246.40L521.47,250.28L525.54,250.28L526.81,246.40ZM530.72,241.12L527.42,243.51L528.68,247.39L532.76,247.39L534.02,243.51ZM537.93,240.31L534.63,242.71L535.90,246.59L539.97,246.59L541.24,242.71ZM545.15,239.83L541.85,242.23L543.11,246.11L547.19,246.11L548.45,242.23ZM552.37,239.19L549.06,241.59L550.33,245.47L554.40,245.47L555.67,241.59ZM559.58,235.50L556.28,237.89L557.54,241.77L561.62,241.77L562.88,237.89ZM566.79,234.85L563.49,237.25L564.76,241.13L568.83,241.13L570.10,237.25ZM574.01,234.69L570.71,237.09L571.97,240.97L576.05,240.97L577.31,237.09ZM581.22,234.05L577.92,236.45L579.19,240.33L583.26,240.33L584.53,236.45ZM588.44,232.93L585.14,235.33L586.40,239.21L590.48,239.21L591.74,235.33ZM595.65,232.13L592.35,234.52L593.62,238.40L597.69,238.40L598.96,234.52ZM602.87,231.64L599.57,234.04L600.83,237.92L604.91,237.92L606.17,234.04ZM610.08,231.48L606.78,233.88L608.05,237.76L612.12,237.76L613.39,233.88ZM617.30,230.20L614.00,232.60L615.26,236.48L619.34,236.48L620.60,232.60ZM624.51,229.88L621.21,232.28L622.48,236.15L626.55,236.15L627.82,232.28ZM631.73,229.24L628.43,231.63L629.69,235.51L633.77,235.51L635.03,231.63ZM638.94,228.91L635.64,231.31L636.91,235.19L640.98,235.19L642.25,231.31ZM646.16,228.59L642.86,230.99L644.12,234.87L648.20,234.87L649.46,230.99ZM653.38,228.27L650.07,230.67L651.34,234.55L655.41,234.55L656.68,230.67ZM660.59,227.63L657.29,230.03L658.55,233.91L662.63,233.91L663.89,230.03ZM667.80,226.99L664.50,229.39L665.77,233.27L669.84,233.27L671.11,229.39ZM675.02,221.53L671.72,223.93L672.98,227.81L677.06,227.81L678.32,223.93ZM682.23,220.08L678.93,222.48L680.20,226.36L684.27,226.36L685.54,222.48ZM689.45,218.16L686.15,220.56L687.41,224.43L691.49,224.43L692.75,220.56ZM696.66,213.66L693.36,216.06L694.63,219.94L698.70,219.94L699.97,216.06ZM703.88,212.38L700.58,214.78L701.84,218.66L705.92,218.66L707.18,214.78ZM711.09,200.34L707.79,202.73L709.06,206.61L713.13,206.61L714.40,202.73Z" fill="#8f100b" stroke="none"/>
</g>
<path d="M461.25,231.10H723.65" stroke="#111111" stroke-width="1.4" fill="none" opacity="1"/>
<text x="473.40" y="411.76" text-anchor="middle" textLength="12.9" lengthAdjust="spacingAndGlyphs">0</text>
<text x="617.70" y="411.76" text-anchor="middle" textLength="22.7" lengthAdjust="spacingAndGlyphs">20</text>
<text x="454.35" y="366.70" text-anchor="end" textLength="31.6" lengthAdjust="spacingAndGlyphs">-40</text>
<text x="454.35" y="302.48" text-anchor="end" textLength="29.5" lengthAdjust="spacingAndGlyphs">-20</text>
<text x="454.35" y="238.26" text-anchor="end" textLength="12.9" lengthAdjust="spacingAndGlyphs">0</text>
<text x="454.35" y="174.04" text-anchor="end" textLength="22.7" lengthAdjust="spacingAndGlyphs">20</text>
<text x="454.35" y="109.82" text-anchor="end" textLength="23.9" lengthAdjust="spacingAndGlyphs">40</text>
<text x="592.25" y="63.36" text-anchor="middle" textLength="37.5" lengthAdjust="spacingAndGlyphs">Base</text>
<rect x="777.00" y="70.55" width="261.00" height="321.15" fill="#ffffff" stroke="none"/>
<path d="M788.50,70.55V391.70M932.50,70.55V391.70M777.00,359.54H1038.00M777.00,295.32H1038.00M777.00,166.88H1038.00M777.00,102.66H1038.00" stroke="#eaeaea" stroke-width="1.1" fill="none"/>
<path d="M777.00,231.10H1038.40" stroke="#111111" stroke-width="1.4" fill="none"/>
<clipPath id="c3"><rect x="777.00" y="70.55" width="261.00" height="321.15"/></clipPath>
<g clip-path="url(#c3)">
<path d="M788.50,234.05L785.20,236.45L786.46,240.33L790.54,240.33L791.80,236.45ZM795.70,232.45L792.40,234.84L793.66,238.72L797.74,238.72L799.00,234.84ZM802.90,231.16L799.60,233.56L800.86,237.44L804.94,237.44L806.20,233.56ZM810.10,227.63L806.80,230.03L808.06,233.91L812.14,233.91L813.40,230.03ZM817.30,227.31L814.00,229.71L815.26,233.59L819.34,233.59L820.60,229.71ZM824.50,226.67L821.20,229.06L822.46,232.94L826.54,232.94L827.80,229.06ZM831.70,226.19L828.40,228.58L829.66,232.46L833.74,232.46L835.00,228.58ZM838.90,225.86L835.60,228.26L836.86,232.14L840.94,232.14L842.20,228.26ZM846.10,225.54L842.80,227.94L844.06,231.82L848.14,231.82L849.40,227.94ZM853.30,224.90L850.00,227.30L851.26,231.18L855.34,231.18L856.60,227.30ZM860.50,221.69L857.20,224.09L858.46,227.97L862.54,227.97L863.80,224.09ZM867.70,218.80L864.40,221.20L865.66,225.08L869.74,225.08L871.00,221.20ZM874.90,217.03L871.60,219.43L872.86,223.31L876.94,223.31L878.20,219.43ZM882.10,214.79L878.80,217.18L880.06,221.06L884.14,221.06L885.40,217.18ZM889.30,213.50L886.00,215.90L887.26,219.78L891.34,219.78L892.60,215.90ZM896.50,212.86L893.20,215.26L894.46,219.14L898.54,219.14L899.80,215.26ZM903.70,211.41L900.40,213.81L901.66,217.69L905.74,217.69L907.00,213.81ZM910.90,208.20L907.60,210.60L908.86,214.48L912.94,214.48L914.20,210.60ZM918.10,207.08L914.80,209.48L916.06,213.36L920.14,213.36L921.40,209.48ZM925.30,203.39L922.00,205.78L923.26,209.66L927.34,209.66L928.60,205.78ZM932.50,199.05L929.20,201.45L930.46,205.33L934.54,205.33L935.80,201.45ZM939.70,199.21L936.40,201.61L937.66,205.49L941.74,205.49L943.00,201.61ZM946.90,196.64L943.60,199.04L944.86,202.92L948.94,202.92L950.20,199.04ZM954.10,196.00L950.80,198.40L952.06,202.28L956.14,202.28L957.40,198.40ZM961.30,190.38L958.00,192.78L959.26,196.66L963.34,196.66L964.60,192.78ZM968.50,188.94L965.20,191.34L966.46,195.21L970.54,195.21L971.80,191.34ZM975.70,186.69L972.40,189.09L973.66,192.97L977.74,192.97L979.00,189.09ZM982.90,186.37L979.60,188.77L980.86,192.65L984.94,192.65L986.20,188.77ZM990.10,178.66L986.80,181.06L988.06,184.94L992.14,184.94L993.40,181.06ZM997.30,169.99L994.00,172.39L995.26,176.27L999.34,176.27L1000.60,172.39ZM1004.50,165.02L1001.20,167.41L1002.46,171.29L1006.54,171.29L1007.80,167.41ZM1011.70,161.32L1008.40,163.72L1009.66,167.60L1013.74,167.60L1015.00,163.72ZM1018.90,148.00L1015.60,150.39L1016.86,154.27L1020.94,154.27L1022.20,150.39ZM1026.10,115.89L1022.80,118.28L1024.06,122.16L1028.14,122.16L1029.40,118.28Z" fill="#33963f" stroke="none"/>
<path d="M785.03,262.31 h6.94 v6.94 h-6.94 ZM792.23,236.79 h6.94 v6.94 h-6.94 ZM799.43,235.45 h6.94 v6.94 h-6.94 ZM806.63,234.68 h6.94 v6.94 h-6.94 ZM813.83,233.11 h6.94 v6.94 h-6.94 ZM821.03,232.01 h6.94 v6.94 h-6.94 ZM828.23,229.76 h6.94 v6.94 h-6.94 ZM835.43,229.44 h6.94 v6.94 h-6.94 ZM842.63,228.17 h6.94 v6.94 h-6.94 ZM849.83,227.85 h6.94 v6.94 h-6.94 ZM857.03,227.21 h6.94 v6.94 h-6.94 ZM864.23,225.75 h6.94 v6.94 h-6.94 ZM871.43,224.77 h6.94 v6.94 h-6.94 ZM878.63,223.57 h6.94 v6.94 h-6.94 ZM885.83,223.32 h6.94 v6.94 h-6.94 ZM893.03,222.72 h6.94 v6.94 h-6.94 ZM900.23,222.45 h6.94 v6.94 h-6.94 ZM907.43,221.78 h6.94 v6.94 h-6.94 ZM914.63,219.92 h6.94 v6.94 h-6.94 ZM921.83,217.35 h6.94 v6.94 h-6.94 ZM929.03,216.72 h6.94 v6.94 h-6.94 ZM936.23,216.13 h6.94 v6.94 h-6.94 ZM943.43,215.34 h6.94 v6.94 h-6.94 ZM950.63,209.12 h6.94 v6.94 h-6.94 ZM957.83,207.03 h6.94 v6.94 h-6.94 ZM965.03,202.89 h6.94 v6.94 h-6.94 ZM972.23,200.32 h6.94 v6.94 h-6.94 ZM979.43,196.23 h6.94 v6.94 h-6.94 ZM986.63,195.39 h6.94 v6.94 h-6.94 ZM993.83,192.34 h6.94 v6.94 h-6.94 ZM1001.03,183.49 h6.94 v6.94 h-6.94 ZM1008.23,176.36 h6.94 v6.94 h-6.94 ZM1015.43,163.31 h6.94 v6.94 h-6.94 ZM1022.63,138.69 h6.94 v6.94 h-6.94 Z" fill="#808080" stroke="none"/>
<path d="M785.03,265.78 a3.47,3.47 0 1,0 6.94,0 a3.47,3.47 0 1,0 -6.94,0ZM792.23,240.26 a3.47,3.47 0 1,0 6.94,0 a3.47,3.47 0 1,0 -6.94,0ZM799.43,238.92 a3.47,3.47 0 1,0 6.94,0 a3.47,3.47 0 1,0 -6.94,0ZM806.63,238.15 a3.47,3.47 0 1,0 6.94,0 a3.47,3.47 0 1,0 -6.94,0ZM813.83,236.58 a3.47,3.47 0 1,0 6.94,0 a3.47,3.47 0 1,0 -6.94,0ZM821.03,235.48 a3.47,3.47 0 1,0 6.94,0 a3.47,3.47 0 1,0 -6.94,0ZM828.23,233.23 a3.47,3.47 0 1,0 6.94,0 a3.47,3.47 0 1,0 -6.94,0ZM835.43,232.91 a3.47,3.47 0 1,0 6.94,0 a3.47,3.47 0 1,0 -6.94,0ZM842.63,231.64 a3.47,3.47 0 1,0 6.94,0 a3.47,3.47 0 1,0 -6.94,0ZM849.83,231.32 a3.47,3.47 0 1,0 6.94,0 a3.47,3.47 0 1,0 -6.94,0ZM857.03,230.68 a3.47,3.47 0 1,0 6.94,0 a3.47,3.47 0 1,0 -6.94,0ZM864.23,229.22 a3.47,3.47 0 1,0 6.94,0 a3.47,3.47 0 1,0 -6.94,0ZM871.43,228.24 a3.47,3.47 0 1,0 6.94,0 a3.47,3.47 0 1,0 -6.94,0ZM878.63,227.04 a3.47,3.47 0 1,0 6.94,0 a3.47,3.47 0 1,0 -6.94,0ZM885.83,226.79 a3.47,3.47 0 1,0 6.94,0 a3.47,3.47 0 1,0 -6.94,0ZM893.03,226.19 a3.47,3.47 0 1,0 6.94,0 a3.47,3.47 0 1,0 -6.94,0ZM900.23,225.92 a3.47,3.47 0 1,0 6.94,0 a3.47,3.47 0 1,0 -6.94,0ZM907.43,225.25 a3.47,3.47 0 1,0 6.94,0 a3.47,3.47 0 1,0 -6.94,0ZM914.63,223.39 a3.47,3.47 0 1,0 6.94,0 a3.47,3.47 0 1,0 -6.94,0ZM921.83,220.82 a3.47,3.47 0 1,0 6.94,0 a3.47,3.47 0 1,0 -6.94,0ZM929.03,220.19 a3.47,3.47 0 1,0 6.94,0 a3.47,3.47 0 1,0 -6.94,0ZM936.23,219.60 a3.47,3.47 0 1,0 6.94,0 a3.47,3.47 0 1,0 -6.94,0ZM943.43,218.81 a3.47,3.47 0 1,0 6.94,0 a3.47,3.47 0 1,0 -6.94,0ZM950.63,212.59 a3.47,3.47 0 1,0 6.94,0 a3.47,3.47 0 1,0 -6.94,0ZM957.83,210.50 a3.47,3.47 0 1,0 6.94,0 a3.47,3.47 0 1,0 -6.94,0ZM965.03,206.36 a3.47,3.47 0 1,0 6.94,0 a3.47,3.47 0 1,0 -6.94,0ZM972.23,203.79 a3.47,3.47 0 1,0 6.94,0 a3.47,3.47 0 1,0 -6.94,0ZM979.43,199.70 a3.47,3.47 0 1,0 6.94,0 a3.47,3.47 0 1,0 -6.94,0ZM986.63,198.86 a3.47,3.47 0 1,0 6.94,0 a3.47,3.47 0 1,0 -6.94,0ZM993.83,195.81 a3.47,3.47 0 1,0 6.94,0 a3.47,3.47 0 1,0 -6.94,0ZM1001.03,186.96 a3.47,3.47 0 1,0 6.94,0 a3.47,3.47 0 1,0 -6.94,0ZM1008.23,179.83 a3.47,3.47 0 1,0 6.94,0 a3.47,3.47 0 1,0 -6.94,0ZM1015.43,166.78 a3.47,3.47 0 1,0 6.94,0 a3.47,3.47 0 1,0 -6.94,0ZM1022.63,142.16 a3.47,3.47 0 1,0 6.94,0 a3.47,3.47 0 1,0 -6.94,0Z" fill="#c2c2c2" stroke="none"/>
<path d="M786.76,270.34L788.50,272.07L790.24,270.34L791.97,272.07L790.24,273.81L791.97,275.54L790.24,277.28L788.50,275.54L786.76,277.28L785.03,275.54L786.76,273.81L785.03,272.07ZM793.97,238.87L795.70,240.60L797.44,238.87L799.17,240.60L797.44,242.34L799.17,244.07L797.44,245.81L795.70,244.07L793.97,245.81L792.23,244.07L793.97,242.34L792.23,240.60ZM801.16,238.23L802.90,239.96L804.63,238.23L806.37,239.96L804.63,241.70L806.37,243.43L804.63,245.17L802.90,243.43L801.16,245.17L799.43,243.43L801.16,241.70L799.43,239.96ZM808.37,236.30L810.10,238.03L811.84,236.30L813.57,238.03L811.84,239.77L813.57,241.50L811.84,243.24L810.10,241.50L808.37,243.24L806.63,241.50L808.37,239.77L806.63,238.03ZM815.56,235.66L817.30,237.39L819.03,235.66L820.77,237.39L819.03,239.13L820.77,240.86L819.03,242.60L817.30,240.86L815.56,242.60L813.83,240.86L815.56,239.13L813.83,237.39ZM822.76,235.02L824.50,236.75L826.24,235.02L827.97,236.75L826.24,238.49L827.97,240.22L826.24,241.96L824.50,240.22L822.76,241.96L821.03,240.22L822.76,238.49L821.03,236.75ZM829.97,232.77L831.70,234.50L833.44,232.77L835.17,234.50L833.44,236.24L835.17,237.97L833.44,239.71L831.70,237.97L829.97,239.71L828.23,237.97L829.97,236.24L828.23,234.50ZM837.16,232.45L838.90,234.18L840.63,232.45L842.37,234.18L840.63,235.92L842.37,237.65L840.63,239.39L838.90,237.65L837.16,239.39L835.43,237.65L837.16,235.92L835.43,234.18ZM844.37,229.56L846.10,231.29L847.84,229.56L849.57,231.29L847.84,233.03L849.57,234.76L847.84,236.50L846.10,234.76L844.37,236.50L842.63,234.76L844.37,233.03L842.63,231.29ZM851.56,229.24L853.30,230.97L855.03,229.24L856.77,230.97L855.03,232.71L856.77,234.44L855.03,236.18L853.30,234.44L851.56,236.18L849.83,234.44L851.56,232.71L849.83,230.97ZM858.76,228.59L860.50,230.33L862.24,228.59L863.97,230.33L862.24,232.06L863.97,233.80L862.24,235.53L860.50,233.80L858.76,235.53L857.03,233.80L858.76,232.06L857.03,230.33ZM865.97,227.95L867.70,229.69L869.44,227.95L871.17,229.69L869.44,231.42L871.17,233.16L869.44,234.89L867.70,233.16L865.97,234.89L864.23,233.16L865.97,231.42L864.23,229.69ZM873.16,227.31L874.90,229.04L876.63,227.31L878.37,229.04L876.63,230.78L878.37,232.51L876.63,234.25L874.90,232.51L873.16,234.25L871.43,232.51L873.16,230.78L871.43,229.04ZM880.37,226.35L882.10,228.08L883.84,226.35L885.57,228.08L883.84,229.82L885.57,231.55L883.84,233.29L882.10,231.55L880.37,233.29L878.63,231.55L880.37,229.82L878.63,228.08ZM887.56,225.86L889.30,227.60L891.03,225.86L892.77,227.60L891.03,229.33L892.77,231.07L891.03,232.80L889.30,231.07L887.56,232.80L885.83,231.07L887.56,229.33L885.83,227.60ZM894.76,225.38L896.50,227.12L898.24,225.38L899.97,227.12L898.24,228.85L899.97,230.59L898.24,232.32L896.50,230.59L894.76,232.32L893.03,230.59L894.76,228.85L893.03,227.12ZM901.97,225.22L903.70,226.96L905.44,225.22L907.17,226.96L905.44,228.69L907.17,230.43L905.44,232.16L903.70,230.43L901.97,232.16L900.23,230.43L901.97,228.69L900.23,226.96ZM909.16,224.90L910.90,226.64L912.63,224.90L914.37,226.64L912.63,228.37L914.37,230.11L912.63,231.84L910.90,230.11L909.16,231.84L907.43,230.11L909.16,228.37L907.43,226.64ZM916.37,223.62L918.10,225.35L919.84,223.62L921.57,225.35L919.84,227.09L921.57,228.82L919.84,230.56L918.10,228.82L916.37,230.56L914.63,228.82L916.37,227.09L914.63,225.35ZM923.56,223.13L925.30,224.87L927.03,223.13L928.77,224.87L927.03,226.60L928.77,228.34L927.03,230.07L925.30,228.34L923.56,230.07L921.83,228.34L923.56,226.60L921.83,224.87ZM930.76,221.69L932.50,223.42L934.24,221.69L935.97,223.42L934.24,225.16L935.97,226.89L934.24,228.63L932.50,226.89L930.76,228.63L929.03,226.89L930.76,225.16L929.03,223.42ZM937.97,219.60L939.70,221.34L941.44,219.60L943.17,221.34L941.44,223.07L943.17,224.81L941.44,226.54L939.70,224.81L937.97,226.54L936.23,224.81L937.97,223.07L936.23,221.34ZM945.16,218.00L946.90,219.73L948.63,218.00L950.37,219.73L948.63,221.47L950.37,223.20L948.63,224.94L946.90,223.20L945.16,224.94L943.43,223.20L945.16,221.47L943.43,219.73ZM952.37,214.79L954.10,216.52L955.84,214.79L957.57,216.52L955.84,218.26L957.57,219.99L955.84,221.73L954.10,219.99L952.37,221.73L950.63,219.99L952.37,218.26L950.63,216.52ZM959.56,210.61L961.30,212.35L963.03,210.61L964.77,212.35L963.03,214.08L964.77,215.82L963.03,217.55L961.30,215.82L959.56,217.55L957.83,215.82L959.56,214.08L957.83,212.35ZM966.76,207.40L968.50,209.14L970.24,207.40L971.97,209.14L970.24,210.87L971.97,212.61L970.24,214.34L968.50,212.61L966.76,214.34L965.03,212.61L966.76,210.87L965.03,209.14ZM973.97,204.83L975.70,206.57L977.44,204.83L979.17,206.57L977.44,208.30L979.17,210.04L977.44,211.77L975.70,210.04L973.97,211.77L972.23,210.04L973.97,208.30L972.23,206.57ZM981.16,201.78L982.90,203.52L984.63,201.78L986.37,203.52L984.63,205.25L986.37,206.99L984.63,208.72L982.90,206.99L981.16,208.72L979.43,206.99L981.16,205.25L979.43,203.52ZM988.37,200.02L990.10,201.75L991.84,200.02L993.57,201.75L991.84,203.49L993.57,205.22L991.84,206.96L990.10,205.22L988.37,206.96L986.63,205.22L988.37,203.49L986.63,201.75ZM995.56,194.08L997.30,195.81L999.03,194.08L1000.77,195.81L999.03,197.55L1000.77,199.28L999.03,201.02L997.30,199.28L995.56,201.02L993.83,199.28L995.56,197.55L993.83,195.81ZM1002.76,188.46L1004.50,190.19L1006.24,188.46L1007.97,190.19L1006.24,191.93L1007.97,193.66L1006.24,195.40L1004.50,193.66L1002.76,195.40L1001.03,193.66L1002.76,191.93L1001.03,190.19ZM1009.97,180.75L1011.70,182.48L1013.44,180.75L1015.17,182.48L1013.44,184.22L1015.17,185.95L1013.44,187.69L1011.70,185.95L1009.97,187.69L1008.23,185.95L1009.97,184.22L1008.23,182.48ZM1017.16,167.58L1018.90,169.32L1020.63,167.58L1022.37,169.32L1020.63,171.05L1022.37,172.79L1020.63,174.52L1018.90,172.79L1017.16,174.52L1015.43,172.79L1017.16,171.05L1015.43,169.32ZM1024.37,143.98L1026.10,145.72L1027.83,143.98L1029.57,145.72L1027.83,147.45L1029.57,149.19L1027.83,150.92L1026.10,149.19L1024.37,150.92L1022.63,149.19L1024.37,147.45L1022.63,145.72Z" fill="#000000" stroke="none"/>
<path d="M788.50,259.10L785.20,261.50L786.46,265.38L790.54,265.38L791.80,261.50ZM795.70,235.98L792.40,238.38L793.66,242.26L797.74,242.26L799.00,238.38ZM802.90,234.37L799.60,236.77L800.86,240.65L804.94,240.65L806.20,236.77ZM810.10,234.05L806.80,236.45L808.06,240.33L812.14,240.33L813.40,236.45ZM817.30,232.13L814.00,234.52L815.26,238.40L819.34,238.40L820.60,234.52ZM824.50,230.84L821.20,233.24L822.46,237.12L826.54,237.12L827.80,233.24ZM831.70,228.59L828.40,230.99L829.66,234.87L833.74,234.87L835.00,230.99ZM838.90,228.27L835.60,230.67L836.86,234.55L840.94,234.55L842.20,230.67ZM846.10,227.63L842.80,230.03L844.06,233.91L848.14,233.91L849.40,230.03ZM853.30,227.31L850.00,229.71L851.26,233.59L855.34,233.59L856.60,229.71ZM860.50,226.67L857.20,229.06L858.46,232.94L862.54,232.94L863.80,229.06ZM867.70,224.90L864.40,227.30L865.66,231.18L869.74,231.18L871.00,227.30ZM874.90,223.78L871.60,226.17L872.86,230.05L876.94,230.05L878.20,226.17ZM882.10,222.49L878.80,224.89L880.06,228.77L884.14,228.77L885.40,224.89ZM889.30,222.33L886.00,224.73L887.26,228.61L891.34,228.61L892.60,224.73ZM896.50,221.69L893.20,224.09L894.46,227.97L898.54,227.97L899.80,224.09ZM903.70,221.37L900.40,223.77L901.66,227.65L905.74,227.65L907.00,223.77ZM910.90,220.57L907.60,222.96L908.86,226.84L912.94,226.84L914.20,222.96ZM918.10,218.48L914.80,220.88L916.06,224.76L920.14,224.76L921.40,220.88ZM925.30,215.11L922.00,217.50L923.26,221.38L927.34,221.38L928.60,217.50ZM932.50,214.79L929.20,217.18L930.46,221.06L934.54,221.06L935.80,217.18ZM939.70,214.79L936.40,217.18L937.66,221.06L941.74,221.06L943.00,217.18ZM946.90,214.30L943.60,216.70L944.86,220.58L948.94,220.58L950.20,216.70ZM954.10,206.92L950.80,209.32L952.06,213.20L956.14,213.20L957.40,209.32ZM961.30,205.63L958.00,208.03L959.26,211.91L963.34,211.91L964.60,208.03ZM968.50,201.14L965.20,203.54L966.46,207.42L970.54,207.42L971.80,203.54ZM975.70,198.57L972.40,200.97L973.66,204.85L977.74,204.85L979.00,200.97ZM982.90,194.08L979.60,196.47L980.86,200.35L984.94,200.35L986.20,196.47ZM990.10,193.59L986.80,195.99L988.06,199.87L992.14,199.87L993.40,195.99ZM997.30,191.67L994.00,194.06L995.26,197.94L999.34,197.94L1000.60,194.06ZM1004.50,181.55L1001.20,183.95L1002.46,187.83L1006.54,187.83L1007.80,183.95ZM1011.70,174.65L1008.40,177.05L1009.66,180.93L1013.74,180.93L1015.00,177.05ZM1018.90,161.64L1015.60,164.04L1016.86,167.92L1020.94,167.92L1022.20,164.04ZM1026.10,134.99L1022.80,137.39L1024.06,141.27L1028.14,141.27L1029.40,137.39Z" fill="#8f100b" stroke="none"/>
</g>
<path d="M777.00,231.10H1038.40" stroke="#111111" stroke-width="1.15" fill="none" opacity="0.55"/>
<text x="788.90" y="411.76" text-anchor="middle" textLength="12.9" lengthAdjust="spacingAndGlyphs">0</text>
<text x="932.90" y="411.76" text-anchor="middle" textLength="22.7" lengthAdjust="spacingAndGlyphs">20</text>
<text x="770.10" y="366.70" text-anchor="end" textLength="31.6" lengthAdjust="spacingAndGlyphs">-40</text>
<text x="770.10" y="302.48" text-anchor="end" textLength="29.5" lengthAdjust="spacingAndGlyphs">-20</text>
<text x="770.10" y="238.26" text-anchor="end" textLength="12.9" lengthAdjust="spacingAndGlyphs">0</text>
<text x="770.10" y="174.04" text-anchor="end" textLength="22.7" lengthAdjust="spacingAndGlyphs">20</text>
<text x="770.10" y="109.82" text-anchor="end" textLength="23.9" lengthAdjust="spacingAndGlyphs">40</text>
<text x="907.50" y="63.36" text-anchor="middle" textLength="22.0" lengthAdjust="spacingAndGlyphs">EU</text>
<rect x="1091.75" y="70.55" width="262.25" height="321.15" fill="#ffffff" stroke="none"/>
<path d="M1102.80,70.55V391.70M1248.40,70.55V391.70M1091.75,359.54H1354.00M1091.75,295.32H1354.00M1091.75,166.88H1354.00M1091.75,102.66H1354.00" stroke="#eaeaea" stroke-width="1.1" fill="none"/>
<path d="M1091.75,231.10H1354.40" stroke="#111111" stroke-width="1.4" fill="none"/>
<clipPath id="c4"><rect x="1091.75" y="70.55" width="262.25" height="321.15"/></clipPath>
<g clip-path="url(#c4)">
<path d="M1102.80,230.52L1099.50,232.92L1100.76,236.80L1104.84,236.80L1106.10,232.92ZM1110.08,227.15L1106.78,229.55L1108.04,233.43L1112.12,233.43L1113.38,229.55ZM1117.36,226.83L1114.06,229.22L1115.32,233.10L1119.40,233.10L1120.66,229.22ZM1124.64,226.51L1121.34,228.90L1122.60,232.78L1126.68,232.78L1127.94,228.90ZM1131.92,225.06L1128.62,227.46L1129.88,231.34L1133.96,231.34L1135.22,227.46ZM1139.20,225.06L1135.90,227.46L1137.16,231.34L1141.24,231.34L1142.50,227.46ZM1146.48,224.26L1143.18,226.66L1144.44,230.54L1148.52,230.54L1149.78,226.66ZM1153.76,220.08L1150.46,222.48L1151.72,226.36L1155.80,226.36L1157.06,222.48ZM1161.04,219.44L1157.74,221.84L1159.00,225.72L1163.08,225.72L1164.34,221.84ZM1168.32,215.75L1165.02,218.15L1166.28,222.03L1170.36,222.03L1171.62,218.15ZM1175.60,215.11L1172.30,217.50L1173.56,221.38L1177.64,221.38L1178.90,217.50ZM1182.88,213.18L1179.58,215.58L1180.84,219.46L1184.92,219.46L1186.18,215.58ZM1190.16,211.74L1186.86,214.13L1188.12,218.01L1192.20,218.01L1193.46,214.13ZM1197.44,210.29L1194.14,212.69L1195.40,216.57L1199.48,216.57L1200.74,212.69ZM1204.72,203.23L1201.42,205.62L1202.68,209.50L1206.76,209.50L1208.02,205.62ZM1212.00,203.23L1208.70,205.62L1209.96,209.50L1214.04,209.50L1215.30,205.62ZM1219.28,200.02L1215.98,202.41L1217.24,206.29L1221.32,206.29L1222.58,202.41ZM1226.56,198.73L1223.26,201.13L1224.52,205.01L1228.60,205.01L1229.86,201.13ZM1233.84,198.09L1230.54,200.49L1231.80,204.37L1235.88,204.37L1237.14,200.49ZM1241.12,193.59L1237.82,195.99L1239.08,199.87L1243.16,199.87L1244.42,195.99ZM1248.40,189.10L1245.10,191.50L1246.36,195.38L1250.44,195.38L1251.70,191.50ZM1255.68,181.23L1252.38,183.63L1253.64,187.51L1257.72,187.51L1258.98,183.63ZM1262.96,178.98L1259.66,181.38L1260.92,185.26L1265.00,185.26L1266.26,181.38ZM1270.24,179.30L1266.94,181.70L1268.20,185.58L1272.28,185.58L1273.54,181.70ZM1277.52,178.82L1274.22,181.22L1275.48,185.10L1279.56,185.10L1280.82,181.22ZM1284.80,174.65L1281.50,177.05L1282.76,180.93L1286.84,180.93L1288.10,177.05ZM1292.08,171.76L1288.78,174.16L1290.04,178.04L1294.12,178.04L1295.38,174.16ZM1299.36,167.42L1296.06,169.82L1297.32,173.70L1301.40,173.70L1302.66,169.82ZM1306.64,161.80L1303.34,164.20L1304.60,168.08L1308.68,168.08L1309.94,164.20ZM1313.92,153.46L1310.62,155.85L1311.88,159.73L1315.96,159.73L1317.22,155.85ZM1321.20,146.39L1317.90,148.79L1319.16,152.67L1323.24,152.67L1324.50,148.79ZM1328.48,140.93L1325.18,143.33L1326.44,147.21L1330.52,147.21L1331.78,143.33ZM1335.76,123.11L1332.46,125.51L1333.72,129.39L1337.80,129.39L1339.06,125.51ZM1343.04,85.22L1339.74,87.62L1341.00,91.50L1345.08,91.50L1346.34,87.62Z" fill="#33963f" stroke="none"/>
<path d="M1099.33,250.75 h6.94 v6.94 h-6.94 ZM1106.61,234.24 h6.94 v6.94 h-6.94 ZM1113.89,231.40 h6.94 v6.94 h-6.94 ZM1121.17,230.49 h6.94 v6.94 h-6.94 ZM1128.45,229.86 h6.94 v6.94 h-6.94 ZM1135.73,228.60 h6.94 v6.94 h-6.94 ZM1143.01,228.21 h6.94 v6.94 h-6.94 ZM1150.29,227.98 h6.94 v6.94 h-6.94 ZM1157.57,227.42 h6.94 v6.94 h-6.94 ZM1164.85,225.46 h6.94 v6.94 h-6.94 ZM1172.13,224.04 h6.94 v6.94 h-6.94 ZM1179.41,221.36 h6.94 v6.94 h-6.94 ZM1186.69,220.18 h6.94 v6.94 h-6.94 ZM1193.97,219.70 h6.94 v6.94 h-6.94 ZM1201.25,216.87 h6.94 v6.94 h-6.94 ZM1208.53,216.39 h6.94 v6.94 h-6.94 ZM1215.81,216.39 h6.94 v6.94 h-6.94 ZM1223.09,215.42 h6.94 v6.94 h-6.94 ZM1230.37,210.77 h6.94 v6.94 h-6.94 ZM1237.65,209.65 h6.94 v6.94 h-6.94 ZM1244.93,208.36 h6.94 v6.94 h-6.94 ZM1252.21,207.08 h6.94 v6.94 h-6.94 ZM1259.49,204.83 h6.94 v6.94 h-6.94 ZM1266.77,200.34 h6.94 v6.94 h-6.94 ZM1274.05,194.40 h6.94 v6.94 h-6.94 ZM1281.33,192.79 h6.94 v6.94 h-6.94 ZM1288.61,191.02 h6.94 v6.94 h-6.94 ZM1295.89,187.65 h6.94 v6.94 h-6.94 ZM1303.17,183.16 h6.94 v6.94 h-6.94 ZM1310.45,180.71 h6.94 v6.94 h-6.94 ZM1317.73,169.99 h6.94 v6.94 h-6.94 ZM1325.01,159.88 h6.94 v6.94 h-6.94 ZM1332.29,142.22 h6.94 v6.94 h-6.94 ZM1339.57,112.68 h6.94 v6.94 h-6.94 Z" fill="#808080" stroke="none"/>
<path d="M1099.33,254.22 a3.47,3.47 0 1,0 6.94,0 a3.47,3.47 0 1,0 -6.94,0ZM1106.61,237.71 a3.47,3.47 0 1,0 6.94,0 a3.47,3.47 0 1,0 -6.94,0ZM1113.89,234.87 a3.47,3.47 0 1,0 6.94,0 a3.47,3.47 0 1,0 -6.94,0ZM1121.17,233.96 a3.47,3.47 0 1,0 6.94,0 a3.47,3.47 0 1,0 -6.94,0ZM1128.45,233.33 a3.47,3.47 0 1,0 6.94,0 a3.47,3.47 0 1,0 -6.94,0ZM1135.73,232.07 a3.47,3.47 0 1,0 6.94,0 a3.47,3.47 0 1,0 -6.94,0ZM1143.01,231.68 a3.47,3.47 0 1,0 6.94,0 a3.47,3.47 0 1,0 -6.94,0ZM1150.29,231.45 a3.47,3.47 0 1,0 6.94,0 a3.47,3.47 0 1,0 -6.94,0ZM1157.57,230.89 a3.47,3.47 0 1,0 6.94,0 a3.47,3.47 0 1,0 -6.94,0ZM1164.85,228.93 a3.47,3.47 0 1,0 6.94,0 a3.47,3.47 0 1,0 -6.94,0ZM1172.13,227.51 a3.47,3.47 0 1,0 6.94,0 a3.47,3.47 0 1,0 -6.94,0ZM1179.41,224.83 a3.47,3.47 0 1,0 6.94,0 a3.47,3.47 0 1,0 -6.94,0ZM1186.69,223.65 a3.47,3.47 0 1,0 6.94,0 a3.47,3.47 0 1,0 -6.94,0ZM1193.97,223.17 a3.47,3.47 0 1,0 6.94,0 a3.47,3.47 0 1,0 -6.94,0ZM1201.25,220.34 a3.47,3.47 0 1,0 6.94,0 a3.47,3.47 0 1,0 -6.94,0ZM1208.53,219.86 a3.47,3.47 0 1,0 6.94,0 a3.47,3.47 0 1,0 -6.94,0ZM1215.81,219.86 a3.47,3.47 0 1,0 6.94,0 a3.47,3.47 0 1,0 -6.94,0ZM1223.09,218.89 a3.47,3.47 0 1,0 6.94,0 a3.47,3.47 0 1,0 -6.94,0ZM1230.37,214.24 a3.47,3.47 0 1,0 6.94,0 a3.47,3.47 0 1,0 -6.94,0ZM1237.65,213.12 a3.47,3.47 0 1,0 6.94,0 a3.47,3.47 0 1,0 -6.94,0ZM1244.93,211.83 a3.47,3.47 0 1,0 6.94,0 a3.47,3.47 0 1,0 -6.94,0ZM1252.21,210.55 a3.47,3.47 0 1,0 6.94,0 a3.47,3.47 0 1,0 -6.94,0ZM1259.49,208.30 a3.47,3.47 0 1,0 6.94,0 a3.47,3.47 0 1,0 -6.94,0ZM1266.77,203.81 a3.47,3.47 0 1,0 6.94,0 a3.47,3.47 0 1,0 -6.94,0ZM1274.05,197.87 a3.47,3.47 0 1,0 6.94,0 a3.47,3.47 0 1,0 -6.94,0ZM1281.33,196.26 a3.47,3.47 0 1,0 6.94,0 a3.47,3.47 0 1,0 -6.94,0ZM1288.61,194.49 a3.47,3.47 0 1,0 6.94,0 a3.47,3.47 0 1,0 -6.94,0ZM1295.89,191.12 a3.47,3.47 0 1,0 6.94,0 a3.47,3.47 0 1,0 -6.94,0ZM1303.17,186.63 a3.47,3.47 0 1,0 6.94,0 a3.47,3.47 0 1,0 -6.94,0ZM1310.45,184.18 a3.47,3.47 0 1,0 6.94,0 a3.47,3.47 0 1,0 -6.94,0ZM1317.73,173.46 a3.47,3.47 0 1,0 6.94,0 a3.47,3.47 0 1,0 -6.94,0ZM1325.01,163.35 a3.47,3.47 0 1,0 6.94,0 a3.47,3.47 0 1,0 -6.94,0ZM1332.29,145.69 a3.47,3.47 0 1,0 6.94,0 a3.47,3.47 0 1,0 -6.94,0ZM1339.57,116.15 a3.47,3.47 0 1,0 6.94,0 a3.47,3.47 0 1,0 -6.94,0Z" fill="#c2c2c2" stroke="none"/>
<path d="M1101.07,260.38L1102.80,262.12L1104.53,260.38L1106.27,262.12L1104.53,263.85L1106.27,265.59L1104.53,267.32L1102.80,265.59L1101.07,267.32L1099.33,265.59L1101.07,263.85L1099.33,262.12ZM1108.35,235.98L1110.08,237.71L1111.81,235.98L1113.55,237.71L1111.81,239.45L1113.55,241.18L1111.81,242.92L1110.08,241.18L1108.35,242.92L1106.61,241.18L1108.35,239.45L1106.61,237.71ZM1115.62,232.13L1117.36,233.86L1119.09,232.13L1120.83,233.86L1119.09,235.60L1120.83,237.33L1119.09,239.07L1117.36,237.33L1115.62,239.07L1113.89,237.33L1115.62,235.60L1113.89,233.86ZM1122.90,231.64L1124.64,233.38L1126.37,231.64L1128.11,233.38L1126.37,235.11L1128.11,236.85L1126.37,238.58L1124.64,236.85L1122.90,238.58L1121.17,236.85L1122.90,235.11L1121.17,233.38ZM1130.19,231.16L1131.92,232.90L1133.65,231.16L1135.39,232.90L1133.65,234.63L1135.39,236.37L1133.65,238.10L1131.92,236.37L1130.19,238.10L1128.45,236.37L1130.19,234.63L1128.45,232.90ZM1137.47,229.40L1139.20,231.13L1140.93,229.40L1142.67,231.13L1140.93,232.87L1142.67,234.60L1140.93,236.34L1139.20,234.60L1137.47,236.34L1135.73,234.60L1137.47,232.87L1135.73,231.13ZM1144.75,229.07L1146.48,230.81L1148.21,229.07L1149.95,230.81L1148.21,232.54L1149.95,234.28L1148.21,236.01L1146.48,234.28L1144.75,236.01L1143.01,234.28L1144.75,232.54L1143.01,230.81ZM1152.03,228.91L1153.76,230.65L1155.49,228.91L1157.23,230.65L1155.49,232.38L1157.23,234.12L1155.49,235.85L1153.76,234.12L1152.03,235.85L1150.29,234.12L1152.03,232.38L1150.29,230.65ZM1159.31,228.43L1161.04,230.17L1162.77,228.43L1164.51,230.17L1162.77,231.90L1164.51,233.64L1162.77,235.37L1161.04,233.64L1159.31,235.37L1157.57,233.64L1159.31,231.90L1157.57,230.17ZM1166.59,227.63L1168.32,229.36L1170.05,227.63L1171.79,229.36L1170.05,231.10L1171.79,232.84L1170.05,234.57L1168.32,232.84L1166.59,234.57L1164.85,232.84L1166.59,231.10L1164.85,229.36ZM1173.87,225.70L1175.60,227.44L1177.33,225.70L1179.07,227.44L1177.33,229.17L1179.07,230.91L1177.33,232.64L1175.60,230.91L1173.87,232.64L1172.13,230.91L1173.87,229.17L1172.13,227.44ZM1181.15,223.46L1182.88,225.19L1184.62,223.46L1186.35,225.19L1184.62,226.93L1186.35,228.66L1184.62,230.40L1182.88,228.66L1181.15,230.40L1179.41,228.66L1181.15,226.93L1179.41,225.19ZM1188.43,222.49L1190.16,224.23L1191.89,222.49L1193.63,224.23L1191.89,225.96L1193.63,227.70L1191.89,229.43L1190.16,227.70L1188.43,229.43L1186.69,227.70L1188.43,225.96L1186.69,224.23ZM1195.71,222.01L1197.44,223.75L1199.17,222.01L1200.91,223.75L1199.17,225.48L1200.91,227.22L1199.17,228.95L1197.44,227.22L1195.71,228.95L1193.97,227.22L1195.71,225.48L1193.97,223.75ZM1202.99,221.69L1204.72,223.42L1206.45,221.69L1208.19,223.42L1206.45,225.16L1208.19,226.89L1206.45,228.63L1204.72,226.89L1202.99,228.63L1201.25,226.89L1202.99,225.16L1201.25,223.42ZM1210.27,221.21L1212.00,222.94L1213.73,221.21L1215.47,222.94L1213.73,224.68L1215.47,226.41L1213.73,228.15L1212.00,226.41L1210.27,228.15L1208.53,226.41L1210.27,224.68L1208.53,222.94ZM1217.55,221.21L1219.28,222.94L1221.01,221.21L1222.75,222.94L1221.01,224.68L1222.75,226.41L1221.01,228.15L1219.28,226.41L1217.55,228.15L1215.81,226.41L1217.55,224.68L1215.81,222.94ZM1224.83,218.96L1226.56,220.70L1228.29,218.96L1230.03,220.70L1228.29,222.43L1230.03,224.17L1228.29,225.90L1226.56,224.17L1224.83,225.90L1223.09,224.17L1224.83,222.43L1223.09,220.70ZM1232.11,217.52L1233.84,219.25L1235.58,217.52L1237.31,219.25L1235.58,220.99L1237.31,222.72L1235.58,224.46L1233.84,222.72L1232.11,224.46L1230.37,222.72L1232.11,220.99L1230.37,219.25ZM1239.39,214.14L1241.12,215.88L1242.86,214.14L1244.59,215.88L1242.86,217.61L1244.59,219.35L1242.86,221.08L1241.12,219.35L1239.39,221.08L1237.65,219.35L1239.39,217.61L1237.65,215.88ZM1246.67,213.82L1248.40,215.56L1250.13,213.82L1251.87,215.56L1250.13,217.29L1251.87,219.03L1250.13,220.76L1248.40,219.03L1246.67,220.76L1244.93,219.03L1246.67,217.29L1244.93,215.56ZM1253.95,212.06L1255.68,213.79L1257.41,212.06L1259.15,213.79L1257.41,215.53L1259.15,217.26L1257.41,219.00L1255.68,217.26L1253.95,219.00L1252.21,217.26L1253.95,215.53L1252.21,213.79ZM1261.23,211.57L1262.96,213.31L1264.69,211.57L1266.43,213.31L1264.69,215.04L1266.43,216.78L1264.69,218.51L1262.96,216.78L1261.23,218.51L1259.49,216.78L1261.23,215.04L1259.49,213.31ZM1268.51,202.91L1270.24,204.64L1271.97,202.91L1273.71,204.64L1271.97,206.38L1273.71,208.11L1271.97,209.85L1270.24,208.11L1268.51,209.85L1266.77,208.11L1268.51,206.38L1266.77,204.64ZM1275.79,202.26L1277.52,204.00L1279.25,202.26L1280.99,204.00L1279.25,205.73L1280.99,207.47L1279.25,209.20L1277.52,207.47L1275.79,209.20L1274.05,207.47L1275.79,205.73L1274.05,204.00ZM1283.07,197.77L1284.80,199.50L1286.54,197.77L1288.27,199.50L1286.54,201.24L1288.27,202.97L1286.54,204.71L1284.80,202.97L1283.07,204.71L1281.33,202.97L1283.07,201.24L1281.33,199.50ZM1290.35,196.48L1292.08,198.22L1293.82,196.48L1295.55,198.22L1293.82,199.95L1295.55,201.69L1293.82,203.42L1292.08,201.69L1290.35,203.42L1288.61,201.69L1290.35,199.95L1288.61,198.22ZM1297.63,193.27L1299.36,195.01L1301.10,193.27L1302.83,195.01L1301.10,196.74L1302.83,198.48L1301.10,200.21L1299.36,198.48L1297.63,200.21L1295.89,198.48L1297.63,196.74L1295.89,195.01ZM1304.91,188.94L1306.64,190.67L1308.38,188.94L1310.11,190.67L1308.38,192.41L1310.11,194.14L1308.38,195.88L1306.64,194.14L1304.91,195.88L1303.17,194.14L1304.91,192.41L1303.17,190.67ZM1312.19,183.96L1313.92,185.70L1315.65,183.96L1317.39,185.70L1315.65,187.43L1317.39,189.17L1315.65,190.90L1313.92,189.17L1312.19,190.90L1310.45,189.17L1312.19,187.43L1310.45,185.70ZM1319.47,175.93L1321.20,177.67L1322.94,175.93L1324.67,177.67L1322.94,179.40L1324.67,181.14L1322.94,182.87L1321.20,181.14L1319.47,182.87L1317.73,181.14L1319.47,179.40L1317.73,177.67ZM1326.75,165.34L1328.48,167.07L1330.22,165.34L1331.95,167.07L1330.22,168.81L1331.95,170.54L1330.22,172.28L1328.48,170.54L1326.75,172.28L1325.01,170.54L1326.75,168.81L1325.01,167.07ZM1334.03,148.00L1335.76,149.73L1337.50,148.00L1339.23,149.73L1337.50,151.47L1339.23,153.20L1337.50,154.94L1335.76,153.20L1334.03,154.94L1332.29,153.20L1334.03,151.47L1332.29,149.73ZM1341.31,119.42L1343.04,121.15L1344.78,119.42L1346.51,121.15L1344.78,122.89L1346.51,124.62L1344.78,126.36L1343.04,124.62L1341.31,126.36L1339.57,124.62L1341.31,122.89L1339.57,121.15Z" fill="#000000" stroke="none"/>
<path d="M1102.80,239.99L1099.50,242.39L1100.76,246.27L1104.84,246.27L1106.10,242.39ZM1110.08,232.13L1106.78,234.52L1108.04,238.40L1112.12,238.40L1113.38,234.52ZM1117.36,230.52L1114.06,232.92L1115.32,236.80L1119.40,236.80L1120.66,232.92ZM1124.64,229.07L1121.34,231.47L1122.60,235.35L1126.68,235.35L1127.94,231.47ZM1131.92,228.27L1128.62,230.67L1129.88,234.55L1133.96,234.55L1135.22,230.67ZM1139.20,227.63L1135.90,230.03L1137.16,233.91L1141.24,233.91L1142.50,230.03ZM1146.48,227.15L1143.18,229.55L1144.44,233.43L1148.52,233.43L1149.78,229.55ZM1153.76,226.83L1150.46,229.22L1151.72,233.10L1155.80,233.10L1157.06,229.22ZM1161.04,226.19L1157.74,228.58L1159.00,232.46L1163.08,232.46L1164.34,228.58ZM1168.32,222.81L1165.02,225.21L1166.28,229.09L1170.36,229.09L1171.62,225.21ZM1175.60,222.01L1172.30,224.41L1173.56,228.29L1177.64,228.29L1178.90,224.41ZM1182.88,218.80L1179.58,221.20L1180.84,225.08L1184.92,225.08L1186.18,221.20ZM1190.16,217.35L1186.86,219.75L1188.12,223.63L1192.20,223.63L1193.46,219.75ZM1197.44,216.87L1194.14,219.27L1195.40,223.15L1199.48,223.15L1200.74,219.27ZM1204.72,212.70L1201.42,215.10L1202.68,218.98L1206.76,218.98L1208.02,215.10ZM1212.00,212.06L1208.70,214.45L1209.96,218.33L1214.04,218.33L1215.30,214.45ZM1219.28,211.90L1215.98,214.29L1217.24,218.17L1221.32,218.17L1222.58,214.29ZM1226.56,211.09L1223.26,213.49L1224.52,217.37L1228.60,217.37L1229.86,213.49ZM1233.84,205.47L1230.54,207.87L1231.80,211.75L1235.88,211.75L1237.14,207.87ZM1241.12,204.83L1237.82,207.23L1239.08,211.11L1243.16,211.11L1244.42,207.23ZM1248.40,199.53L1245.10,201.93L1246.36,205.81L1250.44,205.81L1251.70,201.93ZM1255.68,199.05L1252.38,201.45L1253.64,205.33L1257.72,205.33L1258.98,201.45ZM1262.96,196.96L1259.66,199.36L1260.92,203.24L1265.00,203.24L1266.26,199.36ZM1270.24,196.64L1266.94,199.04L1268.20,202.92L1272.28,202.92L1273.54,199.04ZM1277.52,187.17L1274.22,189.57L1275.48,193.45L1279.56,193.45L1280.82,189.57ZM1284.80,186.85L1281.50,189.25L1282.76,193.13L1286.84,193.13L1288.10,189.25ZM1292.08,186.85L1288.78,189.25L1290.04,193.13L1294.12,193.13L1295.38,189.25ZM1299.36,181.71L1296.06,184.11L1297.32,187.99L1301.40,187.99L1302.66,184.11ZM1306.64,177.22L1303.34,179.62L1304.60,183.49L1308.68,183.49L1309.94,179.62ZM1313.92,176.74L1310.62,179.13L1311.88,183.01L1315.96,183.01L1317.22,179.13ZM1321.20,162.93L1317.90,165.33L1319.16,169.21L1323.24,169.21L1324.50,165.33ZM1328.48,154.42L1325.18,156.82L1326.44,160.70L1330.52,160.70L1331.78,156.82ZM1335.76,136.60L1332.46,139.00L1333.72,142.88L1337.80,142.88L1339.06,139.00ZM1343.04,104.01L1339.74,106.40L1341.00,110.28L1345.08,110.28L1346.34,106.40Z" fill="#8f100b" stroke="none"/>
</g>
<path d="M1091.75,231.10H1354.40" stroke="#111111" stroke-width="1.15" fill="none" opacity="0.55"/>
<text x="1103.20" y="411.76" text-anchor="middle" textLength="12.9" lengthAdjust="spacingAndGlyphs">0</text>
<text x="1248.80" y="411.76" text-anchor="middle" textLength="22.7" lengthAdjust="spacingAndGlyphs">20</text>
<text x="1084.85" y="366.70" text-anchor="end" textLength="31.6" lengthAdjust="spacingAndGlyphs">-40</text>
<text x="1084.85" y="302.48" text-anchor="end" textLength="29.5" lengthAdjust="spacingAndGlyphs">-20</text>
<text x="1084.85" y="238.26" text-anchor="end" textLength="12.9" lengthAdjust="spacingAndGlyphs">0</text>
<text x="1084.85" y="174.04" text-anchor="end" textLength="22.7" lengthAdjust="spacingAndGlyphs">20</text>
<text x="1084.85" y="109.82" text-anchor="end" textLength="23.9" lengthAdjust="spacingAndGlyphs">40</text>
<text x="1222.88" y="63.36" text-anchor="middle" textLength="55.0" lengthAdjust="spacingAndGlyphs">C++F++</text>
<rect x="145.00" y="456.20" width="262.50" height="320.80" fill="#ffffff" stroke="none"/>
<path d="M156.40,456.20V777.00M256.12,456.20V777.00M355.85,456.20V777.00M145.00,696.70H407.50M145.00,536.30H407.50" stroke="#eaeaea" stroke-width="1.1" fill="none"/>
<clipPath id="c5"><rect x="145.00" y="456.20" width="262.50" height="320.80"/></clipPath>
<g clip-path="url(#c5)">
<path d="M156.40,717.13L153.10,719.53L154.36,723.41L158.44,723.41L159.70,719.53ZM166.37,702.37L163.07,704.77L164.33,708.65L168.41,708.65L169.67,704.77ZM176.34,645.43L173.04,647.83L174.31,651.71L178.38,651.71L179.65,647.83ZM186.32,641.18L183.02,643.58L184.28,647.46L188.36,647.46L189.62,643.58ZM196.29,630.27L192.99,632.67L194.25,636.55L198.33,636.55L199.59,632.67ZM206.26,621.69L202.96,624.09L204.22,627.97L208.30,627.97L209.56,624.09ZM216.24,620.41L212.93,622.81L214.20,626.69L218.27,626.69L219.54,622.81ZM226.21,619.53L222.91,621.92L224.17,625.80L228.25,625.80L229.51,621.92ZM236.18,618.56L232.88,620.96L234.14,624.84L238.22,624.84L239.48,620.96ZM246.15,618.00L242.85,620.40L244.11,624.28L248.19,624.28L249.45,620.40ZM256.12,617.28L252.82,619.68L254.09,623.56L258.16,623.56L259.43,619.68ZM266.10,616.40L262.80,618.80L264.06,622.68L268.14,622.68L269.40,618.80ZM276.07,615.12L272.77,617.51L274.03,621.39L278.11,621.39L279.37,617.51ZM286.04,614.71L282.74,617.11L284.00,620.99L288.08,620.99L289.34,617.11ZM296.01,611.59L292.71,613.98L293.98,617.86L298.05,617.86L299.32,613.98ZM305.99,608.54L302.69,610.94L303.95,614.82L308.03,614.82L309.29,610.94ZM315.96,608.06L312.66,610.46L313.92,614.33L318.00,614.33L319.26,610.46ZM325.93,605.65L322.63,608.05L323.89,611.93L327.97,611.93L329.23,608.05ZM335.90,602.92L332.60,605.32L333.87,609.20L337.94,609.20L339.21,605.32ZM345.88,602.20L342.58,604.60L343.84,608.48L347.92,608.48L349.18,604.60ZM355.85,601.16L352.55,603.56L353.81,607.44L357.89,607.44L359.15,603.56ZM365.82,601.16L362.52,603.56L363.78,607.44L367.86,607.44L369.12,603.56ZM375.80,599.56L372.49,601.95L373.76,605.83L377.83,605.83L379.10,601.95ZM385.77,596.91L382.47,599.31L383.73,603.19L387.81,603.19L389.07,599.31ZM395.74,581.35L392.44,583.75L393.70,587.63L397.78,587.63L399.04,583.75Z" fill="#33963f" stroke="none"/>
<path d="M152.93,733.81 h6.94 v6.94 h-6.94 ZM162.90,722.65 h6.94 v6.94 h-6.94 ZM172.88,668.21 h6.94 v6.94 h-6.94 ZM182.85,655.22 h6.94 v6.94 h-6.94 ZM192.82,646.91 h6.94 v6.94 h-6.94 ZM202.79,641.74 h6.94 v6.94 h-6.94 ZM212.77,627.50 h6.94 v6.94 h-6.94 ZM222.74,626.54 h6.94 v6.94 h-6.94 ZM232.71,625.03 h6.94 v6.94 h-6.94 ZM242.68,623.76 h6.94 v6.94 h-6.94 ZM252.66,623.23 h6.94 v6.94 h-6.94 ZM262.63,621.88 h6.94 v6.94 h-6.94 ZM272.60,621.21 h6.94 v6.94 h-6.94 ZM282.57,621.08 h6.94 v6.94 h-6.94 ZM292.54,620.18 h6.94 v6.94 h-6.94 ZM302.52,618.19 h6.94 v6.94 h-6.94 ZM312.49,617.87 h6.94 v6.94 h-6.94 ZM322.46,617.44 h6.94 v6.94 h-6.94 ZM332.43,616.51 h6.94 v6.94 h-6.94 ZM342.41,615.18 h6.94 v6.94 h-6.94 ZM352.38,614.39 h6.94 v6.94 h-6.94 ZM362.35,612.90 h6.94 v6.94 h-6.94 ZM372.32,610.70 h6.94 v6.94 h-6.94 ZM382.30,607.54 h6.94 v6.94 h-6.94 ZM392.27,607.35 h6.94 v6.94 h-6.94 Z" fill="#808080" stroke="none"/>
<path d="M152.93,724.77 a3.47,3.47 0 1,0 6.94,0 a3.47,3.47 0 1,0 -6.94,0ZM162.90,723.01 a3.47,3.47 0 1,0 6.94,0 a3.47,3.47 0 1,0 -6.94,0ZM172.88,661.89 a3.47,3.47 0 1,0 6.94,0 a3.47,3.47 0 1,0 -6.94,0ZM182.85,649.46 a3.47,3.47 0 1,0 6.94,0 a3.47,3.47 0 1,0 -6.94,0ZM192.82,646.98 a3.47,3.47 0 1,0 6.94,0 a3.47,3.47 0 1,0 -6.94,0ZM202.79,635.91 a3.47,3.47 0 1,0 6.94,0 a3.47,3.47 0 1,0 -6.94,0ZM212.77,628.26 a3.47,3.47 0 1,0 6.94,0 a3.47,3.47 0 1,0 -6.94,0ZM222.74,627.34 a3.47,3.47 0 1,0 6.94,0 a3.47,3.47 0 1,0 -6.94,0ZM232.71,626.14 a3.47,3.47 0 1,0 6.94,0 a3.47,3.47 0 1,0 -6.94,0ZM242.68,624.55 a3.47,3.47 0 1,0 6.94,0 a3.47,3.47 0 1,0 -6.94,0ZM252.66,623.98 a3.47,3.47 0 1,0 6.94,0 a3.47,3.47 0 1,0 -6.94,0ZM262.63,623.06 a3.47,3.47 0 1,0 6.94,0 a3.47,3.47 0 1,0 -6.94,0ZM272.60,621.94 a3.47,3.47 0 1,0 6.94,0 a3.47,3.47 0 1,0 -6.94,0ZM282.57,621.62 a3.47,3.47 0 1,0 6.94,0 a3.47,3.47 0 1,0 -6.94,0ZM292.54,620.49 a3.47,3.47 0 1,0 6.94,0 a3.47,3.47 0 1,0 -6.94,0ZM302.52,616.34 a3.47,3.47 0 1,0 6.94,0 a3.47,3.47 0 1,0 -6.94,0ZM312.49,615.78 a3.47,3.47 0 1,0 6.94,0 a3.47,3.47 0 1,0 -6.94,0ZM322.46,613.93 a3.47,3.47 0 1,0 6.94,0 a3.47,3.47 0 1,0 -6.94,0ZM332.43,613.61 a3.47,3.47 0 1,0 6.94,0 a3.47,3.47 0 1,0 -6.94,0ZM342.41,612.57 a3.47,3.47 0 1,0 6.94,0 a3.47,3.47 0 1,0 -6.94,0ZM352.38,612.01 a3.47,3.47 0 1,0 6.94,0 a3.47,3.47 0 1,0 -6.94,0ZM362.35,610.49 a3.47,3.47 0 1,0 6.94,0 a3.47,3.47 0 1,0 -6.94,0ZM372.32,607.84 a3.47,3.47 0 1,0 6.94,0 a3.47,3.47 0 1,0 -6.94,0ZM382.30,607.28 a3.47,3.47 0 1,0 6.94,0 a3.47,3.47 0 1,0 -6.94,0ZM392.27,603.83 a3.47,3.47 0 1,0 6.94,0 a3.47,3.47 0 1,0 -6.94,0Z" fill="#c2c2c2" stroke="none"/>
<path d="M154.66,727.56L156.40,729.29L158.14,727.56L159.87,729.29L158.14,731.03L159.87,732.76L158.14,734.50L156.40,732.76L154.66,734.50L152.93,732.76L154.66,731.03L152.93,729.29ZM164.64,721.30L166.37,723.03L168.11,721.30L169.84,723.03L168.11,724.77L169.84,726.50L168.11,728.24L166.37,726.50L164.64,728.24L162.90,726.50L164.64,724.77L162.90,723.03ZM174.61,663.40L176.34,665.13L178.08,663.40L179.81,665.13L178.08,666.87L179.81,668.60L178.08,670.34L176.34,668.60L174.61,670.34L172.88,668.60L174.61,666.87L172.88,665.13ZM184.58,651.04L186.32,652.78L188.05,651.04L189.79,652.78L188.05,654.51L189.79,656.25L188.05,657.98L186.32,656.25L184.58,657.98L182.85,656.25L184.58,654.51L182.85,652.78ZM194.56,644.15L196.29,645.88L198.03,644.15L199.76,645.88L198.03,647.62L199.76,649.35L198.03,651.09L196.29,649.35L194.56,651.09L192.82,649.35L194.56,647.62L192.82,645.88ZM204.53,637.65L206.26,639.39L208.00,637.65L209.73,639.39L208.00,641.12L209.73,642.86L208.00,644.59L206.26,642.86L204.53,644.59L202.79,642.86L204.53,641.12L202.79,639.39ZM214.50,626.02L216.24,627.76L217.97,626.02L219.71,627.76L217.97,629.49L219.71,631.23L217.97,632.96L216.24,631.23L214.50,632.96L212.77,631.23L214.50,629.49L212.77,627.76ZM224.47,625.06L226.21,626.79L227.94,625.06L229.68,626.79L227.94,628.53L229.68,630.26L227.94,632.00L226.21,630.26L224.47,632.00L222.74,630.26L224.47,628.53L222.74,626.79ZM234.44,623.78L236.18,625.51L237.92,623.78L239.65,625.51L237.92,627.25L239.65,628.98L237.92,630.72L236.18,628.98L234.44,630.72L232.71,628.98L234.44,627.25L232.71,625.51ZM244.42,621.93L246.15,623.67L247.89,621.93L249.62,623.67L247.89,625.40L249.62,627.14L247.89,628.87L246.15,627.14L244.42,628.87L242.68,627.14L244.42,625.40L242.68,623.67ZM254.39,621.37L256.12,623.11L257.86,621.37L259.60,623.11L257.86,624.84L259.60,626.58L257.86,628.31L256.12,626.58L254.39,628.31L252.66,626.58L254.39,624.84L252.66,623.11ZM264.36,620.41L266.10,622.14L267.83,620.41L269.57,622.14L267.83,623.88L269.57,625.61L267.83,627.35L266.10,625.61L264.36,627.35L262.63,625.61L264.36,623.88L262.63,622.14ZM274.33,619.29L276.07,621.02L277.81,619.29L279.54,621.02L277.81,622.76L279.54,624.49L277.81,626.23L276.07,624.49L274.33,626.23L272.60,624.49L274.33,622.76L272.60,621.02ZM284.31,618.96L286.04,620.70L287.78,618.96L289.51,620.70L287.78,622.43L289.51,624.17L287.78,625.90L286.04,624.17L284.31,625.90L282.57,624.17L284.31,622.43L282.57,620.70ZM294.28,618.16L296.01,619.90L297.75,618.16L299.49,619.90L297.75,621.63L299.49,623.37L297.75,625.10L296.01,623.37L294.28,625.10L292.54,623.37L294.28,621.63L292.54,619.90ZM304.25,615.44L305.99,617.17L307.72,615.44L309.46,617.17L307.72,618.91L309.46,620.64L307.72,622.38L305.99,620.64L304.25,622.38L302.52,620.64L304.25,618.91L302.52,617.17ZM314.23,615.12L315.96,616.85L317.70,615.12L319.43,616.85L317.70,618.59L319.43,620.32L317.70,622.06L315.96,620.32L314.23,622.06L312.49,620.32L314.23,618.59L312.49,616.85ZM324.20,614.71L325.93,616.45L327.67,614.71L329.40,616.45L327.67,618.18L329.40,619.92L327.67,621.65L325.93,619.92L324.20,621.65L322.46,619.92L324.20,618.18L322.46,616.45ZM334.17,614.39L335.90,616.13L337.64,614.39L339.38,616.13L337.64,617.86L339.38,619.60L337.64,621.33L335.90,619.60L334.17,621.33L332.43,619.60L334.17,617.86L332.43,616.13ZM344.14,612.87L345.88,614.60L347.61,612.87L349.35,614.60L347.61,616.34L349.35,618.07L347.61,619.81L345.88,618.07L344.14,619.81L342.41,618.07L344.14,616.34L342.41,614.60ZM354.12,612.63L355.85,614.36L357.59,612.63L359.32,614.36L357.59,616.10L359.32,617.83L357.59,619.57L355.85,617.83L354.12,619.57L352.38,617.83L354.12,616.10L352.38,614.36ZM364.09,610.14L365.82,611.88L367.56,610.14L369.29,611.88L367.56,613.61L369.29,615.35L367.56,617.08L365.82,615.35L364.09,617.08L362.35,615.35L364.09,613.61L362.35,611.88ZM374.06,607.34L375.80,609.07L377.53,607.34L379.27,609.07L377.53,610.81L379.27,612.54L377.53,614.28L375.80,612.54L374.06,614.28L372.32,612.54L374.06,610.81L372.32,609.07ZM384.03,606.29L385.77,608.03L387.50,606.29L389.24,608.03L387.50,609.76L389.24,611.50L387.50,613.23L385.77,611.50L384.03,613.23L382.30,611.50L384.03,609.76L382.30,608.03ZM394.00,605.97L395.74,607.71L397.48,605.97L399.21,607.71L397.48,609.44L399.21,611.18L397.48,612.91L395.74,611.18L394.00,612.91L392.27,611.18L394.00,609.44L392.27,607.71Z" fill="#000000" stroke="none"/>
<path d="M156.40,744.88L153.10,747.28L154.36,751.16L158.44,751.16L159.70,747.28ZM166.37,724.67L163.07,727.07L164.33,730.95L168.41,730.95L169.67,727.07ZM176.34,676.39L173.04,678.79L174.31,682.67L178.38,682.67L179.65,678.79ZM186.32,663.96L183.02,666.35L184.28,670.23L188.36,670.23L189.62,666.35ZM196.29,651.04L192.99,653.44L194.25,657.32L198.33,657.32L199.59,653.44ZM206.26,645.43L202.96,647.83L204.22,651.71L208.30,651.71L209.56,647.83ZM216.24,629.71L212.93,632.11L214.20,635.99L218.27,635.99L219.54,632.11ZM226.21,628.75L222.91,631.15L224.17,635.03L228.25,635.03L229.51,631.15ZM236.18,626.90L232.88,629.30L234.14,633.18L238.22,633.18L239.48,629.30ZM246.15,626.50L242.85,628.90L244.11,632.78L248.19,632.78L249.45,628.90ZM256.12,626.02L252.82,628.42L254.09,632.30L258.16,632.30L259.43,628.42ZM266.10,624.10L262.80,626.50L264.06,630.37L268.14,630.37L269.40,626.50ZM276.07,624.10L272.77,626.50L274.03,630.37L278.11,630.37L279.37,626.50ZM286.04,624.26L282.74,626.66L284.00,630.54L288.08,630.54L289.34,626.66ZM296.01,623.22L292.71,625.61L293.98,629.49L298.05,629.49L299.32,625.61ZM305.99,622.33L302.69,624.73L303.95,628.61L308.03,628.61L309.29,624.73ZM315.96,622.01L312.66,624.41L313.92,628.29L318.00,628.29L319.26,624.41ZM325.93,621.53L322.63,623.93L323.89,627.81L327.97,627.81L329.23,623.93ZM335.90,619.69L332.60,622.08L333.87,625.96L337.94,625.96L339.21,622.08ZM345.88,618.64L342.58,621.04L343.84,624.92L347.92,624.92L349.18,621.04ZM355.85,617.04L352.55,619.44L353.81,623.32L357.89,623.32L359.15,619.44ZM365.82,617.04L362.52,619.44L363.78,623.32L367.86,623.32L369.12,619.44ZM375.80,616.00L372.49,618.40L373.76,622.27L377.83,622.27L379.10,618.40ZM385.77,609.42L382.47,611.82L383.73,615.70L387.81,615.70L389.07,611.82ZM395.74,609.42L392.44,611.82L393.70,615.70L397.78,615.70L399.04,611.82Z" fill="#8f100b" stroke="none"/>
</g>
<path d="M145.00,616.50H407.90" stroke="#111111" stroke-width="1.4" fill="none" opacity="1"/>
<text x="156.80" y="796.96" text-anchor="middle" textLength="12.9" lengthAdjust="spacingAndGlyphs">0</text>
<text x="256.52" y="796.96" text-anchor="middle" textLength="20.0" lengthAdjust="spacingAndGlyphs">10</text>
<text x="356.25" y="796.96" text-anchor="middle" textLength="22.7" lengthAdjust="spacingAndGlyphs">20</text>
<text x="138.10" y="783.06" text-anchor="end" textLength="38.2" lengthAdjust="spacingAndGlyphs">-100</text>
<text x="138.10" y="703.86" text-anchor="end" textLength="30.6" lengthAdjust="spacingAndGlyphs">-50</text>
<text x="138.10" y="623.96" text-anchor="end" textLength="12.9" lengthAdjust="spacingAndGlyphs">0</text>
<text x="138.10" y="543.86" text-anchor="end" textLength="23.2" lengthAdjust="spacingAndGlyphs">50</text>
<text x="138.10" y="464.16" text-anchor="end" textLength="32.3" lengthAdjust="spacingAndGlyphs">100</text>
<text x="276.25" y="823.66" text-anchor="middle" textLength="37.0" lengthAdjust="spacingAndGlyphs">Firm</text>
<rect x="461.25" y="456.20" width="262.00" height="320.80" fill="#ffffff" stroke="none"/>
<path d="M473.05,456.20V777.00M572.33,456.20V777.00M671.60,456.20V777.00M461.25,696.70H723.25M461.25,536.30H723.25" stroke="#eaeaea" stroke-width="1.1" fill="none"/>
<clipPath id="c6"><rect x="461.25" y="456.20" width="262.00" height="320.80"/></clipPath>
<g clip-path="url(#c6)">
<path d="M473.05,682.00L469.75,684.40L471.01,688.28L475.09,688.28L476.35,684.40ZM482.98,635.49L479.68,637.88L480.94,641.76L485.02,641.76L486.28,637.88ZM492.91,620.65L489.60,623.05L490.87,626.93L494.94,626.93L496.21,623.05ZM502.83,619.37L499.53,621.76L500.79,625.64L504.87,625.64L506.13,621.76ZM512.76,614.31L509.46,616.71L510.72,620.59L514.80,620.59L516.06,616.71ZM522.69,613.91L519.39,616.31L520.65,620.19L524.73,620.19L525.99,616.31ZM532.62,613.03L529.31,615.43L530.58,619.31L534.65,619.31L535.92,615.43ZM542.54,612.23L539.24,614.63L540.50,618.51L544.58,618.51L545.84,614.63ZM552.47,609.50L549.17,611.90L550.43,615.78L554.51,615.78L555.77,611.90ZM562.40,607.58L559.10,609.97L560.36,613.85L564.44,613.85L565.70,609.97ZM572.33,606.69L569.02,609.09L570.29,612.97L574.36,612.97L575.63,609.09ZM582.25,605.01L578.95,607.41L580.21,611.29L584.29,611.29L585.55,607.41ZM592.18,601.88L588.88,604.28L590.14,608.16L594.22,608.16L595.48,604.28ZM602.11,592.82L598.81,595.22L600.07,599.10L604.15,599.10L605.41,595.22ZM612.04,589.93L608.73,592.33L610.00,596.21L614.07,596.21L615.34,592.33ZM621.96,587.93L618.66,590.33L619.92,594.20L624.00,594.20L625.26,590.33ZM631.89,583.20L628.59,585.59L629.85,589.47L633.93,589.47L635.19,585.59ZM641.82,582.55L638.52,584.95L639.78,588.83L643.86,588.83L645.12,584.95ZM651.75,575.82L648.44,578.21L649.71,582.09L653.78,582.09L655.05,578.21ZM661.67,572.05L658.37,574.45L659.63,578.33L663.71,578.33L664.97,574.45ZM671.60,571.17L668.30,573.56L669.56,577.44L673.64,577.44L674.90,573.56ZM681.53,570.12L678.23,572.52L679.49,576.40L683.57,576.40L684.83,572.52ZM691.46,558.49L688.15,560.89L689.42,564.77L693.49,564.77L694.76,560.89ZM701.38,543.50L698.08,545.89L699.34,549.77L703.42,549.77L704.68,545.89ZM711.31,531.87L708.01,534.27L709.27,538.14L713.35,538.14L714.61,534.27Z" fill="#33963f" stroke="none"/>
<path d="M469.58,687.11 h6.94 v6.94 h-6.94 ZM479.51,665.96 h6.94 v6.94 h-6.94 ZM489.44,623.61 h6.94 v6.94 h-6.94 ZM499.36,621.99 h6.94 v6.94 h-6.94 ZM509.29,619.14 h6.94 v6.94 h-6.94 ZM519.22,617.50 h6.94 v6.94 h-6.94 ZM529.14,616.00 h6.94 v6.94 h-6.94 ZM539.07,615.54 h6.94 v6.94 h-6.94 ZM549.00,614.74 h6.94 v6.94 h-6.94 ZM558.93,614.13 h6.94 v6.94 h-6.94 ZM568.86,611.80 h6.94 v6.94 h-6.94 ZM578.78,609.70 h6.94 v6.94 h-6.94 ZM588.71,606.92 h6.94 v6.94 h-6.94 ZM598.64,604.96 h6.94 v6.94 h-6.94 ZM608.57,598.90 h6.94 v6.94 h-6.94 ZM618.49,596.76 h6.94 v6.94 h-6.94 ZM628.42,595.20 h6.94 v6.94 h-6.94 ZM638.35,593.45 h6.94 v6.94 h-6.94 ZM648.27,591.27 h6.94 v6.94 h-6.94 ZM658.20,590.19 h6.94 v6.94 h-6.94 ZM668.13,586.96 h6.94 v6.94 h-6.94 ZM678.06,580.81 h6.94 v6.94 h-6.94 ZM687.99,573.53 h6.94 v6.94 h-6.94 ZM697.91,564.83 h6.94 v6.94 h-6.94 ZM707.84,561.62 h6.94 v6.94 h-6.94 Z" fill="#808080" stroke="none"/>
<path d="M469.58,688.52 a3.47,3.47 0 1,0 6.94,0 a3.47,3.47 0 1,0 -6.94,0ZM479.51,658.69 a3.47,3.47 0 1,0 6.94,0 a3.47,3.47 0 1,0 -6.94,0ZM489.44,626.12 a3.47,3.47 0 1,0 6.94,0 a3.47,3.47 0 1,0 -6.94,0ZM499.36,624.60 a3.47,3.47 0 1,0 6.94,0 a3.47,3.47 0 1,0 -6.94,0ZM509.29,619.55 a3.47,3.47 0 1,0 6.94,0 a3.47,3.47 0 1,0 -6.94,0ZM519.22,619.80 a3.47,3.47 0 1,0 6.94,0 a3.47,3.47 0 1,0 -6.94,0ZM529.14,618.50 a3.47,3.47 0 1,0 6.94,0 a3.47,3.47 0 1,0 -6.94,0ZM539.07,616.10 a3.47,3.47 0 1,0 6.94,0 a3.47,3.47 0 1,0 -6.94,0ZM549.00,616.51 a3.47,3.47 0 1,0 6.94,0 a3.47,3.47 0 1,0 -6.94,0ZM558.93,615.46 a3.47,3.47 0 1,0 6.94,0 a3.47,3.47 0 1,0 -6.94,0ZM568.86,612.97 a3.47,3.47 0 1,0 6.94,0 a3.47,3.47 0 1,0 -6.94,0ZM578.78,611.05 a3.47,3.47 0 1,0 6.94,0 a3.47,3.47 0 1,0 -6.94,0ZM588.71,608.75 a3.47,3.47 0 1,0 6.94,0 a3.47,3.47 0 1,0 -6.94,0ZM598.64,607.52 a3.47,3.47 0 1,0 6.94,0 a3.47,3.47 0 1,0 -6.94,0ZM608.57,599.02 a3.47,3.47 0 1,0 6.94,0 a3.47,3.47 0 1,0 -6.94,0ZM618.49,596.85 a3.47,3.47 0 1,0 6.94,0 a3.47,3.47 0 1,0 -6.94,0ZM628.42,594.69 a3.47,3.47 0 1,0 6.94,0 a3.47,3.47 0 1,0 -6.94,0ZM638.35,592.68 a3.47,3.47 0 1,0 6.94,0 a3.47,3.47 0 1,0 -6.94,0ZM648.27,589.63 a3.47,3.47 0 1,0 6.94,0 a3.47,3.47 0 1,0 -6.94,0ZM658.20,589.63 a3.47,3.47 0 1,0 6.94,0 a3.47,3.47 0 1,0 -6.94,0ZM668.13,584.58 a3.47,3.47 0 1,0 6.94,0 a3.47,3.47 0 1,0 -6.94,0ZM678.06,578.49 a3.47,3.47 0 1,0 6.94,0 a3.47,3.47 0 1,0 -6.94,0ZM687.99,575.28 a3.47,3.47 0 1,0 6.94,0 a3.47,3.47 0 1,0 -6.94,0ZM697.91,560.92 a3.47,3.47 0 1,0 6.94,0 a3.47,3.47 0 1,0 -6.94,0ZM707.84,554.59 a3.47,3.47 0 1,0 6.94,0 a3.47,3.47 0 1,0 -6.94,0Z" fill="#c2c2c2" stroke="none"/>
<path d="M471.31,687.94L473.05,689.67L474.79,687.94L476.52,689.67L474.79,691.41L476.52,693.14L474.79,694.88L473.05,693.14L471.31,694.88L469.58,693.14L471.31,691.41L469.58,689.67ZM481.24,669.81L482.98,671.55L484.71,669.81L486.45,671.55L484.71,673.28L486.45,675.02L484.71,676.75L482.98,675.02L481.24,676.75L479.51,675.02L481.24,673.28L479.51,671.55ZM491.17,624.10L492.91,625.83L494.64,624.10L496.38,625.83L494.64,627.57L496.38,629.30L494.64,631.04L492.91,629.30L491.17,631.04L489.44,629.30L491.17,627.57L489.44,625.83ZM501.10,622.41L502.83,624.15L504.57,622.41L506.30,624.15L504.57,625.88L506.30,627.62L504.57,629.35L502.83,627.62L501.10,629.35L499.36,627.62L501.10,625.88L499.36,624.15ZM511.02,619.93L512.76,621.66L514.50,619.93L516.23,621.66L514.50,623.40L516.23,625.13L514.50,626.87L512.76,625.13L511.02,626.87L509.29,625.13L511.02,623.40L509.29,621.66ZM520.95,618.08L522.69,619.82L524.42,618.08L526.16,619.82L524.42,621.55L526.16,623.29L524.42,625.02L522.69,623.29L520.95,625.02L519.22,623.29L520.95,621.55L519.22,619.82ZM530.88,616.48L532.62,618.21L534.35,616.48L536.09,618.21L534.35,619.95L536.09,621.68L534.35,623.42L532.62,621.68L530.88,623.42L529.14,621.68L530.88,619.95L529.14,618.21ZM540.81,616.08L542.54,617.81L544.28,616.08L546.01,617.81L544.28,619.55L546.01,621.28L544.28,623.02L542.54,621.28L540.81,623.02L539.07,621.28L540.81,619.55L539.07,617.81ZM550.74,615.60L552.47,617.33L554.21,615.60L555.94,617.33L554.21,619.07L555.94,620.80L554.21,622.54L552.47,620.80L550.74,622.54L549.00,620.80L550.74,619.07L549.00,617.33ZM560.66,615.20L562.40,616.93L564.13,615.20L565.87,616.93L564.13,618.67L565.87,620.40L564.13,622.14L562.40,620.40L560.66,622.14L558.93,620.40L560.66,618.67L558.93,616.93ZM570.59,612.63L572.33,614.36L574.06,612.63L575.80,614.36L574.06,616.10L575.80,617.83L574.06,619.57L572.33,617.83L570.59,619.57L568.86,617.83L570.59,616.10L568.86,614.36ZM580.52,610.46L582.25,612.20L583.99,610.46L585.72,612.20L583.99,613.93L585.72,615.67L583.99,617.40L582.25,615.67L580.52,617.40L578.78,615.67L580.52,613.93L578.78,612.20ZM590.45,607.74L592.18,609.47L593.92,607.74L595.65,609.47L593.92,611.21L595.65,612.94L593.92,614.68L592.18,612.94L590.45,614.68L588.71,612.94L590.45,611.21L588.71,609.47ZM600.37,606.93L602.11,608.67L603.84,606.93L605.58,608.67L603.84,610.40L605.58,612.14L603.84,613.87L602.11,612.14L600.37,613.87L598.64,612.14L600.37,610.40L598.64,608.67ZM610.30,600.36L612.04,602.09L613.77,600.36L615.51,602.09L613.77,603.83L615.51,605.56L613.77,607.30L612.04,605.56L610.30,607.30L608.57,605.56L610.30,603.83L608.57,602.09ZM620.23,598.19L621.96,599.93L623.70,598.19L625.43,599.93L623.70,601.66L625.43,603.40L623.70,605.13L621.96,603.40L620.23,605.13L618.49,603.40L620.23,601.66L618.49,599.93ZM630.15,597.15L631.89,598.89L633.62,597.15L635.36,598.89L633.62,600.62L635.36,602.36L633.62,604.09L631.89,602.36L630.15,604.09L628.42,602.36L630.15,600.62L628.42,598.89ZM640.08,595.23L641.82,596.96L643.55,595.23L645.29,596.96L643.55,598.70L645.29,600.43L643.55,602.17L641.82,600.43L640.08,602.17L638.35,600.43L640.08,598.70L638.35,596.96ZM650.01,593.78L651.75,595.52L653.48,593.78L655.22,595.52L653.48,597.25L655.22,598.99L653.48,600.72L651.75,598.99L650.01,600.72L648.27,598.99L650.01,597.25L648.27,595.52ZM659.94,593.14L661.67,594.88L663.41,593.14L665.14,594.88L663.41,596.61L665.14,598.35L663.41,600.08L661.67,598.35L659.94,600.08L658.20,598.35L659.94,596.61L658.20,594.88ZM669.87,589.53L671.60,591.27L673.34,589.53L675.07,591.27L673.34,593.00L675.07,594.74L673.34,596.47L671.60,594.74L669.87,596.47L668.13,594.74L669.87,593.00L668.13,591.27ZM679.79,582.55L681.53,584.29L683.26,582.55L685.00,584.29L683.26,586.02L685.00,587.76L683.26,589.49L681.53,587.76L679.79,589.49L678.06,587.76L679.79,586.02L678.06,584.29ZM689.72,575.98L691.46,577.71L693.19,575.98L694.93,577.71L693.19,579.45L694.93,581.18L693.19,582.92L691.46,581.18L689.72,582.92L687.99,581.18L689.72,579.45L687.99,577.71ZM699.65,567.96L701.38,569.69L703.12,567.96L704.85,569.69L703.12,571.43L704.85,573.16L703.12,574.90L701.38,573.16L699.65,574.90L697.91,573.16L699.65,571.43L697.91,569.69ZM709.57,566.43L711.31,568.17L713.04,566.43L714.78,568.17L713.04,569.90L714.78,571.64L713.04,573.37L711.31,571.64L709.57,573.37L707.84,571.64L709.57,569.90L707.84,568.17Z" fill="#000000" stroke="none"/>
<path d="M473.05,690.02L469.75,692.42L471.01,696.30L475.09,696.30L476.35,692.42ZM482.98,678.63L479.68,681.03L480.94,684.91L485.02,684.91L486.28,681.03ZM492.91,626.98L489.60,629.38L490.87,633.26L494.94,633.26L496.21,629.38ZM502.83,625.70L499.53,628.10L500.79,631.98L504.87,631.98L506.13,628.10ZM512.76,623.46L509.46,625.85L510.72,629.73L514.80,629.73L516.06,625.85ZM522.69,619.93L519.39,622.32L520.65,626.20L524.73,626.20L525.99,622.32ZM532.62,618.32L529.31,620.72L530.58,624.60L534.65,624.60L535.92,620.72ZM542.54,618.08L539.24,620.48L540.50,624.36L544.58,624.36L545.84,620.48ZM552.47,617.76L549.17,620.16L550.43,624.04L554.51,624.04L555.77,620.16ZM562.40,617.12L559.10,619.52L560.36,623.40L564.44,623.40L565.70,619.52ZM572.33,614.31L569.02,616.71L570.29,620.59L574.36,620.59L575.63,616.71ZM582.25,612.39L578.95,614.79L580.21,618.67L584.29,618.67L585.55,614.79ZM592.18,609.98L588.88,612.38L590.14,616.26L594.22,616.26L595.48,612.38ZM602.11,609.10L598.81,611.50L600.07,615.38L604.15,615.38L605.41,611.50ZM612.04,604.21L608.73,606.61L610.00,610.49L614.07,610.49L615.34,606.61ZM621.96,603.89L618.66,606.28L619.92,610.16L624.00,610.16L625.26,606.28ZM631.89,601.64L628.59,604.04L629.85,607.92L633.93,607.92L635.19,604.04ZM641.82,598.83L638.52,601.23L639.78,605.11L643.86,605.11L645.12,601.23ZM651.75,597.79L648.44,600.19L649.71,604.07L653.78,604.07L655.05,600.19ZM661.67,596.83L658.37,599.23L659.63,603.11L663.71,603.11L664.97,599.23ZM671.60,594.26L668.30,596.66L669.56,600.54L673.64,600.54L674.90,596.66ZM681.53,588.89L678.23,591.29L679.49,595.17L683.57,595.17L684.83,591.29ZM691.46,578.78L688.15,581.18L689.42,585.06L693.49,585.06L694.76,581.18ZM701.38,574.93L698.08,577.33L699.34,581.21L703.42,581.21L704.68,577.33ZM711.31,574.29L708.01,576.69L709.27,580.57L713.35,580.57L714.61,576.69Z" fill="#8f100b" stroke="none"/>
</g>
<path d="M461.25,616.50H723.65" stroke="#111111" stroke-width="1.4" fill="none" opacity="1"/>
<text x="473.45" y="796.96" text-anchor="middle" textLength="12.9" lengthAdjust="spacingAndGlyphs">0</text>
<text x="572.73" y="796.96" text-anchor="middle" textLength="20.0" lengthAdjust="spacingAndGlyphs">10</text>
<text x="672.00" y="796.96" text-anchor="middle" textLength="22.7" lengthAdjust="spacingAndGlyphs">20</text>
<text x="454.35" y="783.06" text-anchor="end" textLength="38.2" lengthAdjust="spacingAndGlyphs">-100</text>
<text x="454.35" y="703.86" text-anchor="end" textLength="30.6" lengthAdjust="spacingAndGlyphs">-50</text>
<text x="454.35" y="623.96" text-anchor="end" textLength="12.9" lengthAdjust="spacingAndGlyphs">0</text>
<text x="454.35" y="543.86" text-anchor="end" textLength="23.2" lengthAdjust="spacingAndGlyphs">50</text>
<text x="454.35" y="464.16" text-anchor="end" textLength="32.3" lengthAdjust="spacingAndGlyphs">100</text>
<text x="592.25" y="823.66" text-anchor="middle" textLength="37.0" lengthAdjust="spacingAndGlyphs">Firm</text>
<rect x="777.00" y="456.20" width="261.00" height="320.80" fill="#ffffff" stroke="none"/>
<path d="M788.50,456.20V777.00M887.50,456.20V777.00M986.50,456.20V777.00M777.00,696.70H1038.00M777.00,536.30H1038.00" stroke="#eaeaea" stroke-width="1.1" fill="none"/>
<path d="M777.00,616.50H1038.40" stroke="#111111" stroke-width="1.4" fill="none"/>
<clipPath id="c7"><rect x="777.00" y="456.20" width="261.00" height="320.80"/></clipPath>
<g clip-path="url(#c7)">
<path d="M788.50,664.20L785.20,666.60L786.46,670.47L790.54,670.47L791.80,666.60ZM798.40,624.42L795.10,626.82L796.36,630.70L800.44,630.70L801.70,626.82ZM808.30,620.57L805.00,622.97L806.26,626.85L810.34,626.85L811.60,622.97ZM818.20,609.58L814.90,611.98L816.16,615.86L820.24,615.86L821.50,611.98ZM828.10,609.58L824.80,611.98L826.06,615.86L830.14,615.86L831.40,611.98ZM838.00,605.89L834.70,608.29L835.96,612.17L840.04,612.17L841.30,608.29ZM847.90,601.64L844.60,604.04L845.86,607.92L849.94,607.92L851.20,604.04ZM857.80,597.63L854.50,600.03L855.76,603.91L859.84,603.91L861.10,600.03ZM867.70,594.18L864.40,596.58L865.66,600.46L869.74,600.46L871.00,596.58ZM877.60,594.02L874.30,596.42L875.56,600.30L879.64,600.30L880.90,596.42ZM887.50,584.80L884.20,587.20L885.46,591.08L889.54,591.08L890.80,587.20ZM897.40,584.40L894.10,586.80L895.36,590.68L899.44,590.68L900.70,586.80ZM907.30,550.88L904.00,553.27L905.26,557.15L909.34,557.15L910.60,553.27ZM917.20,547.43L913.90,549.82L915.16,553.70L919.24,553.70L920.50,549.82ZM927.10,546.62L923.80,549.02L925.06,552.90L929.14,552.90L930.40,549.02ZM937.00,535.72L933.70,538.11L934.96,541.99L939.04,541.99L940.30,538.11ZM946.90,534.51L943.60,536.91L944.86,540.79L948.94,540.79L950.20,536.91ZM956.80,525.29L953.50,527.69L954.76,531.57L958.84,531.57L960.10,527.69ZM966.70,518.31L963.40,520.71L964.66,524.59L968.74,524.59L970.00,520.71ZM976.60,517.11L973.30,519.51L974.56,523.39L978.64,523.39L979.90,519.51ZM986.50,505.08L983.20,507.48L984.46,511.36L988.54,511.36L989.80,507.48ZM996.40,496.74L993.10,499.14L994.36,503.02L998.44,503.02L999.70,499.14ZM1006.30,484.79L1003.00,487.19L1004.26,491.07L1008.34,491.07L1009.60,487.19Z" fill="#33963f" stroke="none"/>
<path d="M785.03,673.01 h6.94 v6.94 h-6.94 ZM794.93,629.44 h6.94 v6.94 h-6.94 ZM804.83,625.99 h6.94 v6.94 h-6.94 ZM814.73,613.44 h6.94 v6.94 h-6.94 ZM824.63,613.31 h6.94 v6.94 h-6.94 ZM834.53,609.18 h6.94 v6.94 h-6.94 ZM844.43,607.91 h6.94 v6.94 h-6.94 ZM854.33,604.32 h6.94 v6.94 h-6.94 ZM864.23,603.58 h6.94 v6.94 h-6.94 ZM874.13,600.02 h6.94 v6.94 h-6.94 ZM884.03,595.41 h6.94 v6.94 h-6.94 ZM893.93,593.83 h6.94 v6.94 h-6.94 ZM903.83,583.68 h6.94 v6.94 h-6.94 ZM913.73,568.67 h6.94 v6.94 h-6.94 ZM923.63,565.76 h6.94 v6.94 h-6.94 ZM933.53,555.70 h6.94 v6.94 h-6.94 ZM943.43,554.47 h6.94 v6.94 h-6.94 ZM953.33,550.36 h6.94 v6.94 h-6.94 ZM963.23,543.74 h6.94 v6.94 h-6.94 ZM973.13,543.26 h6.94 v6.94 h-6.94 ZM983.03,532.11 h6.94 v6.94 h-6.94 ZM992.93,526.95 h6.94 v6.94 h-6.94 ZM1002.83,518.23 h6.94 v6.94 h-6.94 ZM1012.73,493.37 h6.94 v6.94 h-6.94 Z" fill="#808080" stroke="none"/>
<path d="M785.03,676.48 a3.47,3.47 0 1,0 6.94,0 a3.47,3.47 0 1,0 -6.94,0ZM794.93,632.91 a3.47,3.47 0 1,0 6.94,0 a3.47,3.47 0 1,0 -6.94,0ZM804.83,629.46 a3.47,3.47 0 1,0 6.94,0 a3.47,3.47 0 1,0 -6.94,0ZM814.73,616.91 a3.47,3.47 0 1,0 6.94,0 a3.47,3.47 0 1,0 -6.94,0ZM824.63,616.78 a3.47,3.47 0 1,0 6.94,0 a3.47,3.47 0 1,0 -6.94,0ZM834.53,612.65 a3.47,3.47 0 1,0 6.94,0 a3.47,3.47 0 1,0 -6.94,0ZM844.43,611.38 a3.47,3.47 0 1,0 6.94,0 a3.47,3.47 0 1,0 -6.94,0ZM854.33,607.79 a3.47,3.47 0 1,0 6.94,0 a3.47,3.47 0 1,0 -6.94,0ZM864.23,607.05 a3.47,3.47 0 1,0 6.94,0 a3.47,3.47 0 1,0 -6.94,0ZM874.13,603.49 a3.47,3.47 0 1,0 6.94,0 a3.47,3.47 0 1,0 -6.94,0ZM884.03,598.88 a3.47,3.47 0 1,0 6.94,0 a3.47,3.47 0 1,0 -6.94,0ZM893.93,597.30 a3.47,3.47 0 1,0 6.94,0 a3.47,3.47 0 1,0 -6.94,0ZM903.83,587.15 a3.47,3.47 0 1,0 6.94,0 a3.47,3.47 0 1,0 -6.94,0ZM913.73,572.14 a3.47,3.47 0 1,0 6.94,0 a3.47,3.47 0 1,0 -6.94,0ZM923.63,569.23 a3.47,3.47 0 1,0 6.94,0 a3.47,3.47 0 1,0 -6.94,0ZM933.53,559.17 a3.47,3.47 0 1,0 6.94,0 a3.47,3.47 0 1,0 -6.94,0ZM943.43,557.94 a3.47,3.47 0 1,0 6.94,0 a3.47,3.47 0 1,0 -6.94,0ZM953.33,553.83 a3.47,3.47 0 1,0 6.94,0 a3.47,3.47 0 1,0 -6.94,0ZM963.23,547.21 a3.47,3.47 0 1,0 6.94,0 a3.47,3.47 0 1,0 -6.94,0ZM973.13,546.73 a3.47,3.47 0 1,0 6.94,0 a3.47,3.47 0 1,0 -6.94,0ZM983.03,535.58 a3.47,3.47 0 1,0 6.94,0 a3.47,3.47 0 1,0 -6.94,0ZM992.93,530.42 a3.47,3.47 0 1,0 6.94,0 a3.47,3.47 0 1,0 -6.94,0ZM1002.83,521.70 a3.47,3.47 0 1,0 6.94,0 a3.47,3.47 0 1,0 -6.94,0ZM1012.73,496.84 a3.47,3.47 0 1,0 6.94,0 a3.47,3.47 0 1,0 -6.94,0Z" fill="#c2c2c2" stroke="none"/>
<path d="M786.76,675.67L788.50,677.40L790.24,675.67L791.97,677.40L790.24,679.14L791.97,680.87L790.24,682.61L788.50,680.87L786.76,682.61L785.03,680.87L786.76,679.14L785.03,677.40ZM796.66,631.64L798.40,633.37L800.13,631.64L801.87,633.37L800.13,635.11L801.87,636.84L800.13,638.58L798.40,636.84L796.66,638.58L794.93,636.84L796.66,635.11L794.93,633.37ZM806.56,628.19L808.30,629.92L810.03,628.19L811.77,629.92L810.03,631.66L811.77,633.39L810.03,635.13L808.30,633.39L806.56,635.13L804.83,633.39L806.56,631.66L804.83,629.92ZM816.47,615.12L818.20,616.85L819.94,615.12L821.67,616.85L819.94,618.59L821.67,620.32L819.94,622.06L818.20,620.32L816.47,622.06L814.73,620.32L816.47,618.59L814.73,616.85ZM826.37,614.63L828.10,616.37L829.84,614.63L831.57,616.37L829.84,618.10L831.57,619.84L829.84,621.57L828.10,619.84L826.37,621.57L824.63,619.84L826.37,618.10L824.63,616.37ZM836.26,611.67L838.00,613.40L839.74,611.67L841.47,613.40L839.74,615.14L841.47,616.87L839.74,618.61L838.00,616.87L836.26,618.61L834.53,616.87L836.26,615.14L834.53,613.40ZM846.16,609.58L847.90,611.32L849.63,609.58L851.37,611.32L849.63,613.05L851.37,614.79L849.63,616.52L847.90,614.79L846.16,616.52L844.43,614.79L846.16,613.05L844.43,611.32ZM856.06,607.50L857.80,609.23L859.53,607.50L861.27,609.23L859.53,610.97L861.27,612.70L859.53,614.44L857.80,612.70L856.06,614.44L854.33,612.70L856.06,610.97L854.33,609.23ZM865.97,605.89L867.70,607.63L869.44,605.89L871.17,607.63L869.44,609.36L871.17,611.10L869.44,612.83L867.70,611.10L865.97,612.83L864.23,611.10L865.97,609.36L864.23,607.63ZM875.87,602.04L877.60,603.78L879.34,602.04L881.07,603.78L879.34,605.51L881.07,607.25L879.34,608.98L877.60,607.25L875.87,608.98L874.13,607.25L875.87,605.51L874.13,603.78ZM885.76,599.00L887.50,600.73L889.24,599.00L890.97,600.73L889.24,602.47L890.97,604.20L889.24,605.94L887.50,604.20L885.76,605.94L884.03,604.20L885.76,602.47L884.03,600.73ZM895.66,598.27L897.40,600.01L899.13,598.27L900.87,600.01L899.13,601.74L900.87,603.48L899.13,605.21L897.40,603.48L895.66,605.21L893.93,603.48L895.66,601.74L893.93,600.01ZM905.56,595.63L907.30,597.36L909.03,595.63L910.77,597.36L909.03,599.10L910.77,600.83L909.03,602.57L907.30,600.83L905.56,602.57L903.83,600.83L905.56,599.10L903.83,597.36ZM915.47,573.81L917.20,575.55L918.94,573.81L920.67,575.55L918.94,577.28L920.67,579.02L918.94,580.75L917.20,579.02L915.47,580.75L913.73,579.02L915.47,577.28L913.73,575.55ZM925.37,571.25L927.10,572.98L928.84,571.25L930.57,572.98L928.84,574.72L930.57,576.45L928.84,578.19L927.10,576.45L925.37,578.19L923.63,576.45L925.37,574.72L923.63,572.98ZM935.26,561.70L937.00,563.44L938.74,561.70L940.47,563.44L938.74,565.17L940.47,566.91L938.74,568.64L937.00,566.91L935.26,568.64L933.53,566.91L935.26,565.17L933.53,563.44ZM945.16,558.57L946.90,560.31L948.63,558.57L950.37,560.31L948.63,562.04L950.37,563.78L948.63,565.51L946.90,563.78L945.16,565.51L943.43,563.78L945.16,562.04L943.43,560.31ZM955.06,556.25L956.80,557.98L958.53,556.25L960.27,557.98L958.53,559.72L960.27,561.45L958.53,563.19L956.80,561.45L955.06,563.19L953.33,561.45L955.06,559.72L953.33,557.98ZM964.97,555.45L966.70,557.18L968.44,555.45L970.17,557.18L968.44,558.92L970.17,560.65L968.44,562.39L966.70,560.65L964.97,562.39L963.23,560.65L964.97,558.92L963.23,557.18ZM974.87,551.76L976.60,553.49L978.34,551.76L980.07,553.49L978.34,555.23L980.07,556.96L978.34,558.70L976.60,556.96L974.87,558.70L973.13,556.96L974.87,555.23L973.13,553.49ZM984.76,543.42L986.50,545.15L988.24,543.42L989.97,545.15L988.24,546.89L989.97,548.62L988.24,550.36L986.50,548.62L984.76,550.36L983.03,548.62L984.76,546.89L983.03,545.15ZM994.66,529.78L996.40,531.52L998.13,529.78L999.87,531.52L998.13,533.25L999.87,534.99L998.13,536.72L996.40,534.99L994.66,536.72L992.93,534.99L994.66,533.25L992.93,531.52ZM1004.56,529.06L1006.30,530.80L1008.03,529.06L1009.77,530.80L1008.03,532.53L1009.77,534.27L1008.03,536.00L1006.30,534.27L1004.56,536.00L1002.83,534.27L1004.56,532.53L1002.83,530.80ZM1014.47,509.09L1016.20,510.83L1017.94,509.09L1019.67,510.83L1017.94,512.56L1019.67,514.30L1017.94,516.03L1016.20,514.30L1014.47,516.03L1012.73,514.30L1014.47,512.56L1012.73,510.83Z" fill="#000000" stroke="none"/>
<path d="M788.50,671.98L785.20,674.37L786.46,678.25L790.54,678.25L791.80,674.37ZM798.40,628.59L795.10,630.99L796.36,634.87L800.44,634.87L801.70,630.99ZM808.30,625.14L805.00,627.54L806.26,631.42L810.34,631.42L811.60,627.54ZM818.20,612.79L814.90,615.19L816.16,619.07L820.24,619.07L821.50,615.19ZM828.10,612.79L824.80,615.19L826.06,619.07L830.14,619.07L831.40,615.19ZM838.00,608.22L834.70,610.62L835.96,614.50L840.04,614.50L841.30,610.62ZM847.90,607.26L844.60,609.65L845.86,613.53L849.94,613.53L851.20,609.65ZM857.80,603.09L854.50,605.48L855.76,609.36L859.84,609.36L861.10,605.48ZM867.70,602.68L864.40,605.08L865.66,608.96L869.74,608.96L871.00,605.08ZM877.60,599.24L874.30,601.63L875.56,605.51L879.64,605.51L880.90,601.63ZM887.50,594.02L884.20,596.42L885.46,600.30L889.54,600.30L890.80,596.42ZM897.40,592.10L894.10,594.50L895.36,598.38L899.44,598.38L900.70,594.50ZM907.30,579.03L904.00,581.42L905.26,585.30L909.34,585.30L910.60,581.42ZM917.20,566.67L913.90,569.07L915.16,572.95L919.24,572.95L920.50,569.07ZM927.10,563.63L923.80,566.02L925.06,569.90L929.14,569.90L930.40,566.02ZM937.00,553.36L933.70,555.76L934.96,559.64L939.04,559.64L940.30,555.76ZM946.90,552.88L943.60,555.28L944.86,559.16L948.94,559.16L950.20,555.28ZM956.80,548.07L953.50,550.47L954.76,554.35L958.84,554.35L960.10,550.47ZM966.70,540.45L963.40,542.85L964.66,546.73L968.74,546.73L970.00,542.85ZM976.60,539.81L973.30,542.21L974.56,546.08L978.64,546.08L979.90,542.21ZM986.50,528.90L983.20,531.30L984.46,535.18L988.54,535.18L989.80,531.30ZM996.40,525.85L993.10,528.25L994.36,532.13L998.44,532.13L999.70,528.25ZM1006.30,514.87L1003.00,517.26L1004.26,521.14L1008.34,521.14L1009.60,517.26ZM1016.20,489.20L1012.90,491.60L1014.16,495.48L1018.24,495.48L1019.50,491.60Z" fill="#8f100b" stroke="none"/>
</g>
<path d="M777.00,616.50H1038.40" stroke="#111111" stroke-width="1.15" fill="none" opacity="0.55"/>
<text x="788.90" y="796.96" text-anchor="middle" textLength="12.9" lengthAdjust="spacingAndGlyphs">0</text>
<text x="887.90" y="796.96" text-anchor="middle" textLength="20.0" lengthAdjust="spacingAndGlyphs">10</text>
<text x="986.90" y="796.96" text-anchor="middle" textLength="22.7" lengthAdjust="spacingAndGlyphs">20</text>
<text x="770.10" y="783.06" text-anchor="end" textLength="38.2" lengthAdjust="spacingAndGlyphs">-100</text>
<text x="770.10" y="703.86" text-anchor="end" textLength="30.6" lengthAdjust="spacingAndGlyphs">-50</text>
<text x="770.10" y="623.96" text-anchor="end" textLength="12.9" lengthAdjust="spacingAndGlyphs">0</text>
<text x="770.10" y="543.86" text-anchor="end" textLength="23.2" lengthAdjust="spacingAndGlyphs">50</text>
<text x="770.10" y="464.16" text-anchor="end" textLength="32.3" lengthAdjust="spacingAndGlyphs">100</text>
<text x="907.50" y="823.66" text-anchor="middle" textLength="37.0" lengthAdjust="spacingAndGlyphs">Firm</text>
<rect x="1091.75" y="456.20" width="262.25" height="320.80" fill="#ffffff" stroke="none"/>
<path d="M1102.95,456.20V777.00M1202.78,456.20V777.00M1302.60,456.20V777.00M1091.75,696.70H1354.00M1091.75,536.30H1354.00" stroke="#eaeaea" stroke-width="1.1" fill="none"/>
<path d="M1091.75,616.50H1354.40" stroke="#111111" stroke-width="1.4" fill="none"/>
<clipPath id="c8"><rect x="1091.75" y="456.20" width="262.25" height="320.80"/></clipPath>
<g clip-path="url(#c8)">
<path d="M1102.95,632.84L1099.65,635.24L1100.91,639.12L1104.99,639.12L1106.25,635.24ZM1112.93,619.93L1109.63,622.32L1110.89,626.20L1114.97,626.20L1116.23,622.32ZM1122.91,609.58L1119.61,611.98L1120.88,615.86L1124.95,615.86L1126.22,611.98ZM1132.90,607.10L1129.60,609.49L1130.86,613.37L1134.94,613.37L1136.20,609.49ZM1142.88,604.37L1139.58,606.77L1140.84,610.65L1144.92,610.65L1146.18,606.77ZM1152.86,600.92L1149.56,603.32L1150.82,607.20L1154.90,607.20L1156.16,603.32ZM1162.85,595.79L1159.54,598.18L1160.81,602.06L1164.88,602.06L1166.15,598.18ZM1172.83,588.25L1169.53,590.65L1170.79,594.53L1174.87,594.53L1176.13,590.65ZM1182.81,586.16L1179.51,588.56L1180.77,592.44L1184.85,592.44L1186.11,588.56ZM1192.79,580.95L1189.49,583.35L1190.75,587.23L1194.83,587.23L1196.09,583.35ZM1202.78,575.18L1199.47,577.57L1200.74,581.45L1204.81,581.45L1206.08,577.57ZM1212.76,569.96L1209.46,572.36L1210.72,576.24L1214.80,576.24L1216.06,572.36ZM1222.74,527.78L1219.44,530.18L1220.70,534.05L1224.78,534.05L1226.04,530.18ZM1232.72,526.01L1229.42,528.41L1230.68,532.29L1234.76,532.29L1236.02,528.41ZM1242.70,523.85L1239.40,526.25L1240.67,530.12L1244.74,530.12L1246.01,526.25ZM1252.69,503.64L1249.39,506.03L1250.65,509.91L1254.73,509.91L1255.99,506.03ZM1262.67,492.25L1259.37,494.65L1260.63,498.53L1264.71,498.53L1265.97,494.65ZM1272.65,480.22L1269.35,482.62L1270.61,486.50L1274.69,486.50L1275.95,482.62ZM1282.63,477.33L1279.33,479.73L1280.60,483.61L1284.67,483.61L1285.94,479.73ZM1292.62,458.08L1289.32,460.48L1290.58,464.36L1294.66,464.36L1295.92,460.48ZM1302.60,454.80L1299.30,457.19L1300.56,461.07L1304.64,461.07L1305.90,457.19Z" fill="#33963f" stroke="none"/>
<path d="M1099.48,644.08 h6.94 v6.94 h-6.94 ZM1109.46,626.77 h6.94 v6.94 h-6.94 ZM1119.44,616.07 h6.94 v6.94 h-6.94 ZM1129.43,611.27 h6.94 v6.94 h-6.94 ZM1139.41,609.71 h6.94 v6.94 h-6.94 ZM1149.39,604.71 h6.94 v6.94 h-6.94 ZM1159.38,602.92 h6.94 v6.94 h-6.94 ZM1169.36,595.81 h6.94 v6.94 h-6.94 ZM1179.34,594.45 h6.94 v6.94 h-6.94 ZM1189.32,592.71 h6.94 v6.94 h-6.94 ZM1199.31,586.03 h6.94 v6.94 h-6.94 ZM1209.29,583.68 h6.94 v6.94 h-6.94 ZM1219.27,550.47 h6.94 v6.94 h-6.94 ZM1229.25,546.46 h6.94 v6.94 h-6.94 ZM1239.23,535.56 h6.94 v6.94 h-6.94 ZM1249.22,529.62 h6.94 v6.94 h-6.94 ZM1259.20,525.05 h6.94 v6.94 h-6.94 ZM1269.18,519.84 h6.94 v6.94 h-6.94 ZM1279.16,514.78 h6.94 v6.94 h-6.94 ZM1289.15,504.36 h6.94 v6.94 h-6.94 ZM1299.13,488.72 h6.94 v6.94 h-6.94 ZM1309.11,487.76 h6.94 v6.94 h-6.94 ZM1319.09,480.54 h6.94 v6.94 h-6.94 Z" fill="#808080" stroke="none"/>
<path d="M1099.48,647.55 a3.47,3.47 0 1,0 6.94,0 a3.47,3.47 0 1,0 -6.94,0ZM1109.46,630.24 a3.47,3.47 0 1,0 6.94,0 a3.47,3.47 0 1,0 -6.94,0ZM1119.44,619.54 a3.47,3.47 0 1,0 6.94,0 a3.47,3.47 0 1,0 -6.94,0ZM1129.43,614.74 a3.47,3.47 0 1,0 6.94,0 a3.47,3.47 0 1,0 -6.94,0ZM1139.41,613.18 a3.47,3.47 0 1,0 6.94,0 a3.47,3.47 0 1,0 -6.94,0ZM1149.39,608.18 a3.47,3.47 0 1,0 6.94,0 a3.47,3.47 0 1,0 -6.94,0ZM1159.38,606.39 a3.47,3.47 0 1,0 6.94,0 a3.47,3.47 0 1,0 -6.94,0ZM1169.36,599.28 a3.47,3.47 0 1,0 6.94,0 a3.47,3.47 0 1,0 -6.94,0ZM1179.34,597.92 a3.47,3.47 0 1,0 6.94,0 a3.47,3.47 0 1,0 -6.94,0ZM1189.32,596.18 a3.47,3.47 0 1,0 6.94,0 a3.47,3.47 0 1,0 -6.94,0ZM1199.31,589.50 a3.47,3.47 0 1,0 6.94,0 a3.47,3.47 0 1,0 -6.94,0ZM1209.29,587.15 a3.47,3.47 0 1,0 6.94,0 a3.47,3.47 0 1,0 -6.94,0ZM1219.27,553.94 a3.47,3.47 0 1,0 6.94,0 a3.47,3.47 0 1,0 -6.94,0ZM1229.25,549.93 a3.47,3.47 0 1,0 6.94,0 a3.47,3.47 0 1,0 -6.94,0ZM1239.23,539.03 a3.47,3.47 0 1,0 6.94,0 a3.47,3.47 0 1,0 -6.94,0ZM1249.22,533.09 a3.47,3.47 0 1,0 6.94,0 a3.47,3.47 0 1,0 -6.94,0ZM1259.20,528.52 a3.47,3.47 0 1,0 6.94,0 a3.47,3.47 0 1,0 -6.94,0ZM1269.18,523.31 a3.47,3.47 0 1,0 6.94,0 a3.47,3.47 0 1,0 -6.94,0ZM1279.16,518.25 a3.47,3.47 0 1,0 6.94,0 a3.47,3.47 0 1,0 -6.94,0ZM1289.15,507.83 a3.47,3.47 0 1,0 6.94,0 a3.47,3.47 0 1,0 -6.94,0ZM1299.13,492.19 a3.47,3.47 0 1,0 6.94,0 a3.47,3.47 0 1,0 -6.94,0ZM1309.11,491.23 a3.47,3.47 0 1,0 6.94,0 a3.47,3.47 0 1,0 -6.94,0ZM1319.09,484.01 a3.47,3.47 0 1,0 6.94,0 a3.47,3.47 0 1,0 -6.94,0Z" fill="#c2c2c2" stroke="none"/>
<path d="M1101.22,646.71L1102.95,648.45L1104.68,646.71L1106.42,648.45L1104.68,650.18L1106.42,651.92L1104.68,653.65L1102.95,651.92L1101.22,653.65L1099.48,651.92L1101.22,650.18L1099.48,648.45ZM1111.20,628.43L1112.93,630.16L1114.67,628.43L1116.40,630.16L1114.67,631.90L1116.40,633.63L1114.67,635.37L1112.93,633.63L1111.20,635.37L1109.46,633.63L1111.20,631.90L1109.46,630.16ZM1121.18,617.44L1122.91,619.18L1124.65,617.44L1126.38,619.18L1124.65,620.91L1126.38,622.65L1124.65,624.38L1122.91,622.65L1121.18,624.38L1119.44,622.65L1121.18,620.91L1119.44,619.18ZM1131.16,612.39L1132.90,614.12L1134.63,612.39L1136.37,614.12L1134.63,615.86L1136.37,617.59L1134.63,619.33L1132.90,617.59L1131.16,619.33L1129.43,617.59L1131.16,615.86L1129.43,614.12ZM1141.15,611.27L1142.88,613.00L1144.62,611.27L1146.35,613.00L1144.62,614.74L1146.35,616.47L1144.62,618.21L1142.88,616.47L1141.15,618.21L1139.41,616.47L1141.15,614.74L1139.41,613.00ZM1151.13,606.69L1152.86,608.43L1154.60,606.69L1156.33,608.43L1154.60,610.16L1156.33,611.90L1154.60,613.63L1152.86,611.90L1151.13,613.63L1149.39,611.90L1151.13,610.16L1149.39,608.43ZM1161.11,603.97L1162.85,605.70L1164.58,603.97L1166.32,605.70L1164.58,607.44L1166.32,609.17L1164.58,610.91L1162.85,609.17L1161.11,610.91L1159.38,609.17L1161.11,607.44L1159.38,605.70ZM1171.09,597.79L1172.83,599.53L1174.56,597.79L1176.30,599.53L1174.56,601.26L1176.30,603.00L1174.56,604.73L1172.83,603.00L1171.09,604.73L1169.36,603.00L1171.09,601.26L1169.36,599.53ZM1181.08,596.83L1182.81,598.56L1184.54,596.83L1186.28,598.56L1184.54,600.30L1186.28,602.03L1184.54,603.77L1182.81,602.03L1181.08,603.77L1179.34,602.03L1181.08,600.30L1179.34,598.56ZM1191.06,594.99L1192.79,596.72L1194.53,594.99L1196.26,596.72L1194.53,598.46L1196.26,600.19L1194.53,601.93L1192.79,600.19L1191.06,601.93L1189.32,600.19L1191.06,598.46L1189.32,596.72ZM1201.04,588.49L1202.78,590.22L1204.51,588.49L1206.25,590.22L1204.51,591.96L1206.25,593.69L1204.51,595.43L1202.78,593.69L1201.04,595.43L1199.31,593.69L1201.04,591.96L1199.31,590.22ZM1211.02,588.25L1212.76,589.98L1214.49,588.25L1216.23,589.98L1214.49,591.72L1216.23,593.45L1214.49,595.19L1212.76,593.45L1211.02,595.19L1209.29,593.45L1211.02,591.72L1209.29,589.98ZM1221.01,556.09L1222.74,557.82L1224.47,556.09L1226.21,557.82L1224.47,559.56L1226.21,561.29L1224.47,563.03L1222.74,561.29L1221.01,563.03L1219.27,561.29L1221.01,559.56L1219.27,557.82ZM1230.99,552.88L1232.72,554.62L1234.46,552.88L1236.19,554.62L1234.46,556.35L1236.19,558.09L1234.46,559.82L1232.72,558.09L1230.99,559.82L1229.25,558.09L1230.99,556.35L1229.25,554.62ZM1240.97,538.28L1242.70,540.02L1244.44,538.28L1246.17,540.02L1244.44,541.75L1246.17,543.49L1244.44,545.22L1242.70,543.49L1240.97,545.22L1239.23,543.49L1240.97,541.75L1239.23,540.02ZM1250.95,536.04L1252.69,537.77L1254.42,536.04L1256.16,537.77L1254.42,539.51L1256.16,541.24L1254.42,542.98L1252.69,541.24L1250.95,542.98L1249.22,541.24L1250.95,539.51L1249.22,537.77ZM1260.93,535.00L1262.67,536.73L1264.40,535.00L1266.14,536.73L1264.40,538.47L1266.14,540.20L1264.40,541.94L1262.67,540.20L1260.93,541.94L1259.20,540.20L1260.93,538.47L1259.20,536.73ZM1270.92,533.71L1272.65,535.45L1274.39,533.71L1276.12,535.45L1274.39,537.18L1276.12,538.92L1274.39,540.65L1272.65,538.92L1270.92,540.65L1269.18,538.92L1270.92,537.18L1269.18,535.45ZM1280.90,523.29L1282.63,525.02L1284.37,523.29L1286.11,525.02L1284.37,526.76L1286.11,528.49L1284.37,530.23L1282.63,528.49L1280.90,530.23L1279.16,528.49L1280.90,526.76L1279.16,525.02ZM1290.88,516.63L1292.62,518.36L1294.35,516.63L1296.09,518.36L1294.35,520.10L1296.09,521.83L1294.35,523.57L1292.62,521.83L1290.88,523.57L1289.15,521.83L1290.88,520.10L1289.15,518.36ZM1300.87,500.03L1302.60,501.76L1304.33,500.03L1306.07,501.76L1304.33,503.50L1306.07,505.23L1304.33,506.97L1302.60,505.23L1300.87,506.97L1299.13,505.23L1300.87,503.50L1299.13,501.76ZM1310.85,491.93L1312.58,493.66L1314.32,491.93L1316.05,493.66L1314.32,495.40L1316.05,497.13L1314.32,498.87L1312.58,497.13L1310.85,498.87L1309.11,497.13L1310.85,495.40L1309.11,493.66ZM1320.83,490.81L1322.56,492.54L1324.30,490.81L1326.03,492.54L1324.30,494.28L1326.03,496.01L1324.30,497.75L1322.56,496.01L1320.83,497.75L1319.09,496.01L1320.83,494.28L1319.09,492.54ZM1330.81,462.90L1332.55,464.63L1334.28,462.90L1336.02,464.63L1334.28,466.37L1336.02,468.10L1334.28,469.84L1332.55,468.10L1330.81,469.84L1329.08,468.10L1330.81,466.37L1329.08,464.63Z" fill="#000000" stroke="none"/>
<path d="M1102.95,640.86L1099.65,643.26L1100.91,647.14L1104.99,647.14L1106.25,643.26ZM1112.93,624.74L1109.63,627.14L1110.89,631.02L1114.97,631.02L1116.23,627.14ZM1122.91,614.39L1119.61,616.79L1120.88,620.67L1124.95,620.67L1126.22,616.79ZM1132.90,609.90L1129.60,612.30L1130.86,616.18L1134.94,616.18L1136.20,612.30ZM1142.88,607.82L1139.58,610.21L1140.84,614.09L1144.92,614.09L1146.18,610.21ZM1152.86,602.28L1149.56,604.68L1150.82,608.56L1154.90,608.56L1156.16,604.68ZM1162.85,601.64L1159.54,604.04L1160.81,607.92L1164.88,607.92L1166.15,604.04ZM1172.83,593.38L1169.53,595.78L1170.79,599.66L1174.87,599.66L1176.13,595.78ZM1182.81,591.54L1179.51,593.93L1180.77,597.81L1184.85,597.81L1186.11,593.93ZM1192.79,589.93L1189.49,592.33L1190.75,596.21L1194.83,596.21L1196.09,592.33ZM1202.78,583.04L1199.47,585.43L1200.74,589.31L1204.81,589.31L1206.08,585.43ZM1212.76,579.99L1209.46,582.39L1210.72,586.26L1214.80,586.26L1216.06,582.39ZM1222.74,543.58L1219.44,545.97L1220.70,549.85L1224.78,549.85L1226.04,545.97ZM1232.72,539.89L1229.42,542.29L1230.68,546.16L1234.76,546.16L1236.02,542.29ZM1242.70,532.51L1239.40,534.91L1240.67,538.79L1244.74,538.79L1246.01,534.91ZM1252.69,521.68L1249.39,524.08L1250.65,527.96L1254.73,527.96L1255.99,524.08ZM1262.67,514.78L1259.37,517.18L1260.63,521.06L1264.71,521.06L1265.97,517.18ZM1272.65,503.96L1269.35,506.36L1270.61,510.24L1274.69,510.24L1275.95,506.36ZM1282.63,500.75L1279.33,503.15L1280.60,507.03L1284.67,507.03L1285.94,503.15ZM1292.62,489.20L1289.32,491.60L1290.58,495.48L1294.66,495.48L1295.92,491.60ZM1302.60,484.55L1299.30,486.95L1300.56,490.83L1304.64,490.83L1305.90,486.95ZM1312.58,473.88L1309.28,476.28L1310.54,480.16L1314.62,480.16L1315.88,476.28ZM1322.56,467.55L1319.26,469.94L1320.53,473.82L1324.60,473.82L1325.87,469.94Z" fill="#8f100b" stroke="none"/>
</g>
<path d="M1091.75,616.50H1354.40" stroke="#111111" stroke-width="1.15" fill="none" opacity="0.55"/>
<text x="1103.35" y="796.96" text-anchor="middle" textLength="12.9" lengthAdjust="spacingAndGlyphs">0</text>
<text x="1203.18" y="796.96" text-anchor="middle" textLength="20.0" lengthAdjust="spacingAndGlyphs">10</text>
<text x="1303.00" y="796.96" text-anchor="middle" textLength="22.7" lengthAdjust="spacingAndGlyphs">20</text>
<text x="1084.85" y="783.06" text-anchor="end" textLength="38.2" lengthAdjust="spacingAndGlyphs">-100</text>
<text x="1084.85" y="703.86" text-anchor="end" textLength="30.6" lengthAdjust="spacingAndGlyphs">-50</text>
<text x="1084.85" y="623.96" text-anchor="end" textLength="12.9" lengthAdjust="spacingAndGlyphs">0</text>
<text x="1084.85" y="543.86" text-anchor="end" textLength="23.2" lengthAdjust="spacingAndGlyphs">50</text>
<text x="1084.85" y="464.16" text-anchor="end" textLength="32.3" lengthAdjust="spacingAndGlyphs">100</text>
<text x="1222.88" y="823.66" text-anchor="middle" textLength="37.0" lengthAdjust="spacingAndGlyphs">Firm</text>
<text x="62.70" y="231.30" text-anchor="middle" textLength="97.0" lengthAdjust="spacingAndGlyphs" transform="rotate(-90 62.70 231.30)">Run-of-River</text>
<text x="85.60" y="231.60" text-anchor="middle" textLength="225.0" lengthAdjust="spacingAndGlyphs" transform="rotate(-90 85.60 231.60)">Expected net profits / MCHF</text>
<text x="62.70" y="616.40" text-anchor="middle" textLength="192.0" lengthAdjust="spacingAndGlyphs" transform="rotate(-90 62.70 616.40)">Storage / Pump-Storage</text>
<text x="85.60" y="616.40" text-anchor="middle" textLength="225.4" lengthAdjust="spacingAndGlyphs" transform="rotate(-90 85.60 616.40)">Expected net profits / MCHF</text>
<rect x="306.1" y="856.1" width="787.2" height="42.5" fill="#ffffff" stroke="#222222" stroke-width="1.3"/>
<path d="M328.40,868.05L318.65,875.13L322.38,886.59L334.42,886.59L338.15,875.13Z" fill="#33963f" stroke="none"/>
<path d="M492.00,868.00 h20.60 v20.60 h-20.60 Z" fill="#808080" stroke="none"/>
<path d="M665.70,878.30 a10.30,10.30 0 1,0 20.60,0 a10.30,10.30 0 1,0 -20.60,0Z" fill="#c2c2c2" stroke="none"/>
<path d="M844.90,867.70L850.20,873.00L855.50,867.70L860.80,873.00L855.50,878.30L860.80,883.60L855.50,888.90L850.20,883.60L844.90,888.90L839.60,883.60L844.90,878.30L839.60,873.00Z" fill="#000000" stroke="none"/>
<path d="M1024.20,868.05L1014.45,875.13L1018.18,886.59L1030.22,886.59L1033.95,875.13Z" fill="#8f100b" stroke="none"/>
<text x="348.00" y="885.16" text-anchor="start" textLength="38.0" lengthAdjust="spacingAndGlyphs" stroke="#ffffff">WF0</text>
<text x="524.00" y="885.16" text-anchor="start" textLength="33.0" lengthAdjust="spacingAndGlyphs" stroke="#ffffff">WF1</text>
<text x="697.50" y="885.16" text-anchor="start" textLength="36.0" lengthAdjust="spacingAndGlyphs" stroke="#ffffff">WF2</text>
<text x="870.80" y="885.16" text-anchor="start" textLength="35.5" lengthAdjust="spacingAndGlyphs" stroke="#ffffff">WF3</text>
<text x="1043.80" y="885.16" text-anchor="start" textLength="37.5" lengthAdjust="spacingAndGlyphs" stroke="#ffffff">WFC</text>
</svg>
</body></html>
